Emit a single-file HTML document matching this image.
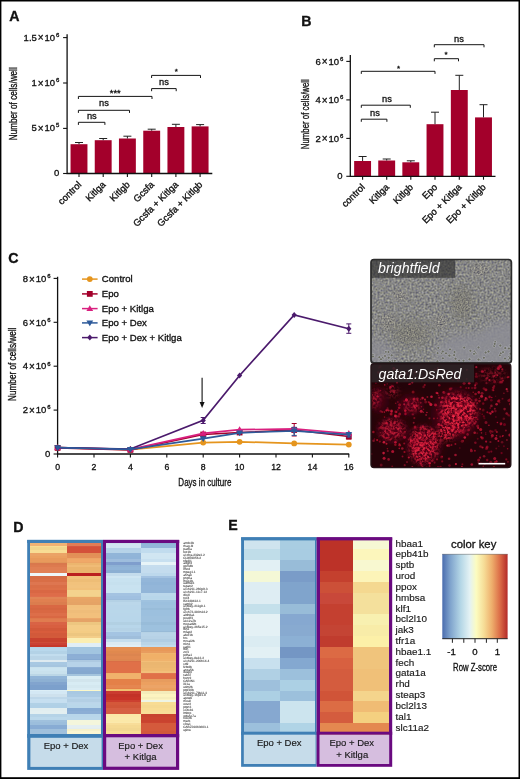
<!DOCTYPE html>
<html><head><meta charset="utf-8"><style>
html,body{margin:0;padding:0;background:#fff;overflow:hidden;}
body{width:520px;height:779px;position:relative;}
svg{position:absolute;left:0;top:0;display:block;will-change:transform;}
text{font-family:"Liberation Sans", sans-serif;fill:#111;stroke:#111;stroke-width:0.32px;}
.ns text{stroke:none;}
.lt text{stroke-width:0.15px;fill:#1a1a1a;}
.gl text{stroke:#777;stroke-width:0.08px;fill:#2a2a2a;}
text.w{fill:#fff;stroke:none;}
</style></head><body>
<svg width="520" height="779" viewBox="0 0 520 779">
<defs>
<linearGradient id="ck" x1="0" x2="1" y1="0" y2="0">
<stop offset="0" stop-color="#4a6cae"/>
<stop offset="0.12" stop-color="#7ea2cc"/>
<stop offset="0.28" stop-color="#b4d6e6"/>
<stop offset="0.42" stop-color="#e4f2f4"/>
<stop offset="0.52" stop-color="#fcfcc0"/>
<stop offset="0.64" stop-color="#f6dc96"/>
<stop offset="0.76" stop-color="#eeae6c"/>
<stop offset="0.88" stop-color="#dc6e48"/>
<stop offset="1" stop-color="#b42a28"/>
</linearGradient>
</defs>
<rect x="0" y="0" width="520" height="779" fill="#fff"/>

<rect x="0" y="0" width="520" height="1.5" fill="#000"/>
<rect x="0" y="0" width="1.4" height="779" fill="#000"/>
<rect x="518.5" y="0" width="1.5" height="779" fill="#000"/>
<rect x="0" y="777.2" width="520" height="1.8" fill="#000"/>
<text x="9.2" y="20.7" font-size="14.2" font-weight="bold" fill="#000">A</text>
<text x="301.2" y="25.9" font-size="14.2" font-weight="bold" fill="#000">B</text>
<text x="8.2" y="262.6" font-size="14.2" font-weight="bold" fill="#000">C</text>
<text x="13.2" y="531.8" font-size="14.2" font-weight="bold" fill="#000">D</text>
<text x="228.2" y="529.8" font-size="14.2" font-weight="bold" fill="#000">E</text>
<rect x="70.55" y="144.2" width="16.9" height="29.30" fill="#a3002b"/>
<path d="M79.0,144.2 V142.5 M75.0,142.5 H83.0" stroke="#222" stroke-width="1" fill="none"/>
<rect x="94.75" y="140.2" width="16.9" height="33.30" fill="#a3002b"/>
<path d="M103.2,140.2 V138.5 M99.2,138.5 H107.2" stroke="#222" stroke-width="1" fill="none"/>
<rect x="118.95" y="138.5" width="16.9" height="35.00" fill="#a3002b"/>
<path d="M127.4,138.5 V136.2 M123.4,136.2 H131.4" stroke="#222" stroke-width="1" fill="none"/>
<rect x="143.25" y="130.7" width="16.9" height="42.80" fill="#a3002b"/>
<path d="M151.7,130.7 V129.2 M147.7,129.2 H155.7" stroke="#222" stroke-width="1" fill="none"/>
<rect x="167.45" y="127.0" width="16.9" height="46.50" fill="#a3002b"/>
<path d="M175.9,127.0 V124.3 M171.9,124.3 H179.9" stroke="#222" stroke-width="1" fill="none"/>
<rect x="191.65" y="126.4" width="16.9" height="47.10" fill="#a3002b"/>
<path d="M200.1,126.4 V124.6 M196.1,124.6 H204.1" stroke="#222" stroke-width="1" fill="none"/>
<path d="M67.1,34.3 V173.5 H212.3" stroke="#111" stroke-width="1.3" fill="none"/>
<path d="M63.099999999999994,37.6 H67.1" stroke="#111" stroke-width="1.1"/>
<path d="M63.099999999999994,83.0 H67.1" stroke="#111" stroke-width="1.1"/>
<path d="M63.099999999999994,128.4 H67.1" stroke="#111" stroke-width="1.1"/>
<path d="M63.099999999999994,173.5 H67.1" stroke="#111" stroke-width="1.1"/>
<path d="M79.0,173.5 V176.9" stroke="#111" stroke-width="1.1"/>
<path d="M103.2,173.5 V176.9" stroke="#111" stroke-width="1.1"/>
<path d="M127.4,173.5 V176.9" stroke="#111" stroke-width="1.1"/>
<path d="M151.7,173.5 V176.9" stroke="#111" stroke-width="1.1"/>
<path d="M175.9,173.5 V176.9" stroke="#111" stroke-width="1.1"/>
<path d="M200.1,173.5 V176.9" stroke="#111" stroke-width="1.1"/>
<text x="59.4" y="40.5" font-size="9.5" text-anchor="end">1.5<tspan dx="0.9" dy="0.9" font-size="10">×</tspan><tspan dx="1.0" dy="-0.9">10</tspan><tspan dx="0.9" dy="-3.9" font-size="6.0">6</tspan></text>
<text x="59.4" y="85.9" font-size="9.5" text-anchor="end">1<tspan dx="0.9" dy="0.9" font-size="10">×</tspan><tspan dx="1.0" dy="-0.9">10</tspan><tspan dx="0.9" dy="-3.9" font-size="6.0">6</tspan></text>
<text x="59.4" y="131.3" font-size="9.5" text-anchor="end">5<tspan dx="0.9" dy="0.9" font-size="10">×</tspan><tspan dx="1.0" dy="-0.9">10</tspan><tspan dx="0.9" dy="-3.9" font-size="6.0">5</tspan></text>
<text x="59.4" y="176.4" font-size="9.5" text-anchor="end">0</text>
<text transform="translate(17.0,103.7) rotate(-90) scale(0.6915,1)" font-size="11.8" text-anchor="middle">Number of cells/well</text>
<path d="M78.4,124.89999999999999 V122.3 H104.9 V124.89999999999999" fill="none" stroke="#151515" stroke-width="1.0"/>
<path d="M78.4,112.89999999999999 V110.3 H129.5 V112.89999999999999" fill="none" stroke="#151515" stroke-width="1.0"/>
<path d="M78.4,99.0 V96.4 H152.0 V99.0" fill="none" stroke="#151515" stroke-width="1.0"/>
<path d="M151.6,91.19999999999999 V88.6 H176.2 V91.19999999999999" fill="none" stroke="#151515" stroke-width="1.0"/>
<path d="M151.6,78.0 V75.4 H200.5 V78.0" fill="none" stroke="#151515" stroke-width="1.0"/>
<g font-size="9.3" text-anchor="middle">
<text x="91.8" y="118.8">ns</text><text x="104" y="106.2">ns</text><text x="115.3" y="95.9" font-size="9.4">***</text><text x="164" y="84.6">ns</text><text x="176.3" y="73.6" font-size="8">*</text>
</g>
<text transform="translate(82.0,185.2) rotate(-45)" font-size="9.5" text-anchor="end">control</text>
<text transform="translate(106.2,185.2) rotate(-45)" font-size="9.5" text-anchor="end">Kitlga</text>
<text transform="translate(130.4,185.2) rotate(-45)" font-size="9.5" text-anchor="end">Kitlgb</text>
<text transform="translate(154.7,185.2) rotate(-45)" font-size="9.5" text-anchor="end">Gcsfa</text>
<text transform="translate(178.9,185.2) rotate(-45)" font-size="9.5" text-anchor="end">Gcsfa + Kitlga</text>
<text transform="translate(203.1,185.2) rotate(-45)" font-size="9.5" text-anchor="end">Gcsfa + Kitlgb</text>
<rect x="354.15" y="161.0" width="16.9" height="15.30" fill="#a3002b"/>
<path d="M362.6,161.0 V156.5 M358.6,156.5 H366.6" stroke="#222" stroke-width="1" fill="none"/>
<rect x="378.25" y="160.5" width="16.9" height="15.80" fill="#a3002b"/>
<path d="M386.7,160.5 V159.0 M382.7,159.0 H390.7" stroke="#222" stroke-width="1" fill="none"/>
<rect x="402.35" y="162.3" width="16.9" height="14.00" fill="#a3002b"/>
<path d="M410.8,162.3 V160.8 M406.8,160.8 H414.8" stroke="#222" stroke-width="1" fill="none"/>
<rect x="426.55" y="124.2" width="16.9" height="52.10" fill="#a3002b"/>
<path d="M435.0,124.2 V112.2 M431.0,112.2 H439.0" stroke="#222" stroke-width="1" fill="none"/>
<rect x="450.85" y="90.0" width="16.9" height="86.30" fill="#a3002b"/>
<path d="M459.3,90.0 V75.3 M455.3,75.3 H463.3" stroke="#222" stroke-width="1" fill="none"/>
<rect x="475.05" y="117.4" width="16.9" height="58.90" fill="#a3002b"/>
<path d="M483.5,117.4 V104.7 M479.5,104.7 H487.5" stroke="#222" stroke-width="1" fill="none"/>
<path d="M350.3,55.0 V176.3 H495.5" stroke="#111" stroke-width="1.3" fill="none"/>
<path d="M346.3,61.4 H350.3" stroke="#111" stroke-width="1.1"/>
<path d="M346.3,99.9 H350.3" stroke="#111" stroke-width="1.1"/>
<path d="M346.3,138.4 H350.3" stroke="#111" stroke-width="1.1"/>
<path d="M346.3,176.3 H350.3" stroke="#111" stroke-width="1.1"/>
<path d="M362.6,176.3 V179.70000000000002" stroke="#111" stroke-width="1.1"/>
<path d="M386.7,176.3 V179.70000000000002" stroke="#111" stroke-width="1.1"/>
<path d="M410.8,176.3 V179.70000000000002" stroke="#111" stroke-width="1.1"/>
<path d="M435.0,176.3 V179.70000000000002" stroke="#111" stroke-width="1.1"/>
<path d="M459.3,176.3 V179.70000000000002" stroke="#111" stroke-width="1.1"/>
<path d="M483.5,176.3 V179.70000000000002" stroke="#111" stroke-width="1.1"/>
<text x="343.3" y="64.5" font-size="9.5" text-anchor="end">6<tspan dx="0.9" dy="0.9" font-size="10">×</tspan><tspan dx="1.0" dy="-0.9">10</tspan><tspan dx="0.9" dy="-3.9" font-size="6.0">6</tspan></text>
<text x="343.3" y="103.0" font-size="9.5" text-anchor="end">4<tspan dx="0.9" dy="0.9" font-size="10">×</tspan><tspan dx="1.0" dy="-0.9">10</tspan><tspan dx="0.9" dy="-3.9" font-size="6.0">6</tspan></text>
<text x="343.3" y="141.5" font-size="9.5" text-anchor="end">2<tspan dx="0.9" dy="0.9" font-size="10">×</tspan><tspan dx="1.0" dy="-0.9">10</tspan><tspan dx="0.9" dy="-3.9" font-size="6.0">6</tspan></text>
<text x="342.6" y="179.2" font-size="9.5" text-anchor="end">0</text>
<text transform="translate(308.6,114.2) rotate(-90) scale(0.6803,1)" font-size="11.5" text-anchor="middle">Number of cells/well</text>
<path d="M361.3,121.8 V119.2 H386.9 V121.8" fill="none" stroke="#151515" stroke-width="1.0"/>
<path d="M361.3,107.8 V105.2 H410.3 V107.8" fill="none" stroke="#151515" stroke-width="1.0"/>
<path d="M361.3,73.89999999999999 V71.3 H435.0 V73.89999999999999" fill="none" stroke="#151515" stroke-width="1.0"/>
<path d="M434.3,61.300000000000004 V58.7 H458.5 V61.300000000000004" fill="none" stroke="#151515" stroke-width="1.0"/>
<path d="M434.3,47.300000000000004 V44.7 H484.0 V47.300000000000004" fill="none" stroke="#151515" stroke-width="1.0"/>
<g font-size="9.3" text-anchor="middle">
<text x="375" y="116.2">ns</text><text x="387" y="101.8">ns</text><text x="398.5" y="70.6" font-size="8">*</text><text x="446" y="57.3" font-size="8">*</text><text x="459" y="41.8">ns</text>
</g>
<text transform="translate(365.6,187.7) rotate(-45)" font-size="9.5" text-anchor="end">control</text>
<text transform="translate(389.7,187.7) rotate(-45)" font-size="9.5" text-anchor="end">Kitlga</text>
<text transform="translate(413.8,187.7) rotate(-45)" font-size="9.5" text-anchor="end">Kitlgb</text>
<text transform="translate(438.0,187.7) rotate(-45)" font-size="9.5" text-anchor="end">Epo</text>
<text transform="translate(462.3,187.7) rotate(-45)" font-size="9.5" text-anchor="end">Epo + Kitlga</text>
<text transform="translate(486.5,187.7) rotate(-45)" font-size="9.5" text-anchor="end">Epo + Kitlgb</text>
<path d="M57.6,276.8 V454 H349.2" stroke="#111" stroke-width="1.3" fill="none"/>
<path d="M53.6,454.0 H57.6" stroke="#111" stroke-width="1.1"/>
<path d="M53.6,410.1 H57.6" stroke="#111" stroke-width="1.1"/>
<path d="M53.6,366.2 H57.6" stroke="#111" stroke-width="1.1"/>
<path d="M53.6,322.3 H57.6" stroke="#111" stroke-width="1.1"/>
<path d="M53.6,278.4 H57.6" stroke="#111" stroke-width="1.1"/>
<text x="50.2" y="456.9" font-size="9.5" text-anchor="end">0</text>
<text x="50.6" y="413.3" font-size="9.5" text-anchor="end">2<tspan dx="0.9" dy="0.9" font-size="10">×</tspan><tspan dx="1.0" dy="-0.9">10</tspan><tspan dx="0.9" dy="-3.9" font-size="6.0">6</tspan></text>
<text x="50.6" y="369.4" font-size="9.5" text-anchor="end">4<tspan dx="0.9" dy="0.9" font-size="10">×</tspan><tspan dx="1.0" dy="-0.9">10</tspan><tspan dx="0.9" dy="-3.9" font-size="6.0">6</tspan></text>
<text x="50.6" y="325.5" font-size="9.5" text-anchor="end">6<tspan dx="0.9" dy="0.9" font-size="10">×</tspan><tspan dx="1.0" dy="-0.9">10</tspan><tspan dx="0.9" dy="-3.9" font-size="6.0">6</tspan></text>
<text x="50.6" y="281.59999999999997" font-size="9.5" text-anchor="end">8<tspan dx="0.9" dy="0.9" font-size="10">×</tspan><tspan dx="1.0" dy="-0.9">10</tspan><tspan dx="0.9" dy="-3.9" font-size="6.0">6</tspan></text>
<path d="M57.6,454 V457.4" stroke="#111" stroke-width="1.1"/>
<text x="57.6" y="469.8" font-size="8.7" text-anchor="middle">0</text>
<path d="M94.0,454 V457.4" stroke="#111" stroke-width="1.1"/>
<text x="94.0" y="469.8" font-size="8.7" text-anchor="middle">2</text>
<path d="M130.4,454 V457.4" stroke="#111" stroke-width="1.1"/>
<text x="130.4" y="469.8" font-size="8.7" text-anchor="middle">4</text>
<path d="M166.8,454 V457.4" stroke="#111" stroke-width="1.1"/>
<text x="166.8" y="469.8" font-size="8.7" text-anchor="middle">6</text>
<path d="M203.2,454 V457.4" stroke="#111" stroke-width="1.1"/>
<text x="203.2" y="469.8" font-size="8.7" text-anchor="middle">8</text>
<path d="M239.6,454 V457.4" stroke="#111" stroke-width="1.1"/>
<text x="239.6" y="469.8" font-size="8.7" text-anchor="middle">10</text>
<path d="M276.0,454 V457.4" stroke="#111" stroke-width="1.1"/>
<text x="276.0" y="469.8" font-size="8.7" text-anchor="middle">12</text>
<path d="M312.4,454 V457.4" stroke="#111" stroke-width="1.1"/>
<text x="312.4" y="469.8" font-size="8.7" text-anchor="middle">14</text>
<path d="M348.8,454 V457.4" stroke="#111" stroke-width="1.1"/>
<text x="348.8" y="469.8" font-size="8.7" text-anchor="middle">16</text>
<text transform="translate(204.9,486.2) scale(0.6995,1)" font-size="11.5" text-anchor="middle">Days in culture</text>
<text transform="translate(16.4,364.3) rotate(-90) scale(0.6962,1)" font-size="11.8" text-anchor="middle">Number of cells/well</text>
<polyline points="57.6,447.7 130.4,449.6 203.2,442.6 239.6,441.8 294.2,443.4 348.8,444.6" fill="none" stroke="#e5951e" stroke-width="1.7"/>
<circle cx="57.6" cy="447.7" r="2.9" fill="#e5951e"/>
<circle cx="130.4" cy="449.6" r="2.9" fill="#e5951e"/>
<circle cx="203.2" cy="442.6" r="2.9" fill="#e5951e"/>
<circle cx="239.6" cy="441.8" r="2.9" fill="#e5951e"/>
<circle cx="294.2" cy="443.4" r="2.9" fill="#e5951e"/>
<circle cx="348.8" cy="444.6" r="2.9" fill="#e5951e"/>
<polyline points="57.6,447.9 130.4,449.9 203.2,434.5 239.6,432.5 294.2,430.0 348.8,436.5" fill="none" stroke="#a3002b" stroke-width="1.7"/>
<path d="M294.2,423.5 V436 M291.7,423.5 H296.7 M291.7,436 H296.7" stroke="#a3002b" stroke-width="1"/>
<path d="M348.8,434 V439 M346.3,434 H351.3 M346.3,439 H351.3" stroke="#a3002b" stroke-width="1"/>
<rect x="54.7" y="445.0" width="5.8" height="5.8" fill="#a3002b"/>
<rect x="127.5" y="447.0" width="5.8" height="5.8" fill="#a3002b"/>
<rect x="200.3" y="431.6" width="5.8" height="5.8" fill="#a3002b"/>
<rect x="236.7" y="429.6" width="5.8" height="5.8" fill="#a3002b"/>
<rect x="291.3" y="427.1" width="5.8" height="5.8" fill="#a3002b"/>
<rect x="345.9" y="433.6" width="5.8" height="5.8" fill="#a3002b"/>
<polyline points="57.6,447.7 130.4,449.3 203.2,433.3 239.6,429.7 294.2,428.9 348.8,433.5" fill="none" stroke="#d9207f" stroke-width="1.7"/>
<path d="M57.6,444.3 L61.0,450.1 L54.2,450.1Z" fill="#d9207f"/>
<path d="M130.4,445.9 L133.8,451.7 L127.0,451.7Z" fill="#d9207f"/>
<path d="M203.2,429.9 L206.6,435.7 L199.8,435.7Z" fill="#d9207f"/>
<path d="M239.6,426.3 L243.0,432.1 L236.2,432.1Z" fill="#d9207f"/>
<path d="M294.2,425.5 L297.6,431.3 L290.8,431.3Z" fill="#d9207f"/>
<path d="M348.8,430.1 L352.2,435.9 L345.4,435.9Z" fill="#d9207f"/>
<polyline points="57.6,447.7 130.4,449.0 203.2,420.4 239.6,375.5 294.2,315.0 348.8,328.8" fill="none" stroke="#4b1a6c" stroke-width="1.7"/>
<path d="M203.2,417.5 V423.5 M200.7,417.5 H205.7 M200.7,423.5 H205.7" stroke="#4b1a6c" stroke-width="1"/>
<path d="M348.8,323.9 V333.3 M346.3,323.9 H351.3 M346.3,333.3 H351.3" stroke="#4b1a6c" stroke-width="1"/>
<path d="M57.6,444.7 L60.2,447.7 L57.6,450.7 L55.0,447.7Z" fill="#4b1a6c"/>
<path d="M130.4,446.0 L133.0,449.0 L130.4,452.0 L127.8,449.0Z" fill="#4b1a6c"/>
<path d="M203.2,417.4 L205.8,420.4 L203.2,423.4 L200.6,420.4Z" fill="#4b1a6c"/>
<path d="M239.6,372.5 L242.2,375.5 L239.6,378.5 L237.0,375.5Z" fill="#4b1a6c"/>
<path d="M294.2,312.0 L296.8,315.0 L294.2,318.0 L291.6,315.0Z" fill="#4b1a6c"/>
<path d="M348.8,325.8 L351.4,328.8 L348.8,331.8 L346.2,328.8Z" fill="#4b1a6c"/>
<polyline points="57.6,447.7 130.4,449.4 203.2,438.6 239.6,432.8 294.2,430.8 348.8,434.6" fill="none" stroke="#2d5a9a" stroke-width="1.7"/>
<path d="M294.2,427.3 V435.4 M291.7,427.3 H296.7 M291.7,435.4 H296.7" stroke="#2d5a9a" stroke-width="1"/>
<path d="M348.8,432.5 V437 M346.3,432.5 H351.3 M346.3,437 H351.3" stroke="#2d5a9a" stroke-width="1"/>
<path d="M57.6,451.1 L61.0,445.3 L54.2,445.3Z" fill="#2d5a9a"/>
<path d="M130.4,452.8 L133.8,447.0 L127.0,447.0Z" fill="#2d5a9a"/>
<path d="M203.2,442.0 L206.6,436.2 L199.8,436.2Z" fill="#2d5a9a"/>
<path d="M239.6,436.2 L243.0,430.4 L236.2,430.4Z" fill="#2d5a9a"/>
<path d="M294.2,434.2 L297.6,428.4 L290.8,428.4Z" fill="#2d5a9a"/>
<path d="M348.8,438.0 L352.2,432.2 L345.4,432.2Z" fill="#2d5a9a"/>
<path d="M202.1,377.8 V404" stroke="#111" stroke-width="1.1"/><path d="M199.6,402 L202.1,408 L204.6,402Z" fill="#111"/>
<path d="M82,279.1 H97.6" stroke="#e5951e" stroke-width="1.5"/>
<circle cx="89.8" cy="279.1" r="2.9" fill="#e5951e"/>
<text x="101.8" y="282.4" font-size="9.6">Control</text>
<path d="M82,293.9 H97.6" stroke="#a3002b" stroke-width="1.5"/>
<rect x="86.9" y="291.0" width="5.8" height="5.8" fill="#a3002b"/>
<text x="101.8" y="297.2" font-size="9.6">Epo</text>
<path d="M82,308.6 H97.6" stroke="#d9207f" stroke-width="1.5"/>
<path d="M89.8,305.2 L93.2,311.0 L86.4,311.0Z" fill="#d9207f"/>
<text x="101.8" y="311.9" font-size="9.6">Epo + Kitlga</text>
<path d="M82,322.9 H97.6" stroke="#2d5a9a" stroke-width="1.5"/>
<path d="M89.8,326.3 L93.2,320.5 L86.4,320.5Z" fill="#2d5a9a"/>
<text x="101.8" y="326.2" font-size="9.6">Epo + Dex</text>
<path d="M82,337.6 H97.6" stroke="#4b1a6c" stroke-width="1.5"/>
<path d="M89.8,334.6 L92.4,337.6 L89.8,340.6 L87.2,337.6Z" fill="#4b1a6c"/>
<text x="101.8" y="340.9" font-size="9.6">Epo + Dex + Kitlga</text>
<defs>
<filter id="grain" x="0" y="0" width="100%" height="100%">
<feTurbulence type="fractalNoise" baseFrequency="0.55" numOctaves="2" seed="3" result="n"/>
<feColorMatrix in="n" type="matrix" values="0 0 0 0 0.54  0 0 0 0 0.54  0 0 0 0 0.53  1.6 1.6 1.6 0 -2.2" result="g"/>
<feComposite in="g" in2="SourceGraphic" operator="in"/>
</filter>
<filter id="blur3"><feGaussianBlur stdDeviation="3"/></filter>
<filter id="blur1" x="-5%" y="-5%" width="110%" height="110%"><feGaussianBlur stdDeviation="0.55"/></filter>
<clipPath id="bfclip"><rect x="371" y="259.5" width="140.4" height="103.6" rx="3"/></clipPath>
<clipPath id="dsclip"><rect x="371" y="363.8" width="139.8" height="103.8" rx="3"/></clipPath>
</defs>
<defs>
<filter id="bfn" x="0" y="0" width="100%" height="100%" color-interpolation-filters="sRGB">
<feTurbulence type="fractalNoise" baseFrequency="0.5" numOctaves="1" seed="4" result="n"/>
<feColorMatrix in="n" type="matrix" values="0.5 0 0 0 0.28  0.5 0 0 0 0.28  0.35 0.15 0 0 0.275  0 0 0 0 1"/>
</filter>
<filter id="bfn2" x="0" y="0" width="100%" height="100%" color-interpolation-filters="sRGB">
<feTurbulence type="fractalNoise" baseFrequency="0.7" numOctaves="1" seed="9" result="n"/>
<feColorMatrix in="n" type="matrix" values="1.1 0 0 0 -0.02  1.08 0 0 0 -0.02  0.8 0 0 0 0.1  0 0 0 0 0.75"/>
</filter>
<radialGradient id="cm"><stop offset="0" stop-color="#fff" stop-opacity="0.9"/><stop offset="0.5" stop-color="#fff" stop-opacity="0.6"/><stop offset="1" stop-color="#fff" stop-opacity="0"/></radialGradient>
<mask id="bfmask" maskUnits="userSpaceOnUse" x="360" y="250" width="160" height="120">
<rect x="360" y="250" width="160" height="120" fill="#000"/>
<ellipse cx="462" cy="303" rx="14" ry="20" fill="url(#cm)"/>
<ellipse cx="412" cy="334" rx="24" ry="16" fill="url(#cm)"/>
<ellipse cx="388" cy="322" rx="12" ry="12" fill="url(#cm)"/>
<ellipse cx="440" cy="322" rx="10" ry="10" fill="url(#cm)"/>
<ellipse cx="480" cy="270" rx="12" ry="9" fill="url(#cm)"/>
<ellipse cx="400" cy="296" rx="10" ry="7" fill="url(#cm)"/>
</mask>
</defs>
<defs><mask id="bfbusy" maskUnits="userSpaceOnUse" x="360" y="250" width="160" height="120">
<rect x="360" y="250" width="160" height="120" fill="#fff"/>
<g filter="url(#bl4)" fill="#000">
<path d="M436,348 Q452,330 476,334 Q496,318 516,320 V372 H436Z" fill-opacity="0.85"/>
<path d="M364,340 Q380,336 392,346 L396,372 H364Z" fill-opacity="0.7"/>
</g></mask></defs>
<g clip-path="url(#bfclip)">
<rect x="371" y="259.5" width="141" height="104" fill="#8d8d95"/>
<rect x="371" y="259.5" width="141" height="104" filter="url(#bfn)" mask="url(#bfbusy)"/>
<g filter="url(#blur1)"><circle cx="470.4" cy="350.8" r="1.5" fill="#6a6c5e" stroke="#a6a6ae" stroke-width="0.8"/><circle cx="506.2" cy="348.0" r="1.5" fill="#6a6c5e" stroke="#a6a6ae" stroke-width="0.8"/><circle cx="474.6" cy="351.6" r="1.5" fill="#6a6c5e" stroke="#a6a6ae" stroke-width="0.8"/><circle cx="450.0" cy="349.4" r="1.5" fill="#6a6c5e" stroke="#a6a6ae" stroke-width="0.8"/><circle cx="483.9" cy="357.8" r="1.5" fill="#6a6c5e" stroke="#a6a6ae" stroke-width="0.8"/><circle cx="442.9" cy="358.3" r="1.5" fill="#6a6c5e" stroke="#a6a6ae" stroke-width="0.8"/><circle cx="510.6" cy="362.9" r="1.5" fill="#6a6c5e" stroke="#a6a6ae" stroke-width="0.8"/><circle cx="485.7" cy="352.5" r="1.5" fill="#6a6c5e" stroke="#a6a6ae" stroke-width="0.8"/><circle cx="438.3" cy="347.9" r="1.5" fill="#6a6c5e" stroke="#a6a6ae" stroke-width="0.8"/><circle cx="469.5" cy="359.3" r="1.5" fill="#6a6c5e" stroke="#a6a6ae" stroke-width="0.8"/><circle cx="475.5" cy="353.2" r="1.5" fill="#6a6c5e" stroke="#a6a6ae" stroke-width="0.8"/><circle cx="474.0" cy="353.9" r="1.5" fill="#6a6c5e" stroke="#a6a6ae" stroke-width="0.8"/><circle cx="511.8" cy="363.9" r="1.5" fill="#6a6c5e" stroke="#a6a6ae" stroke-width="0.8"/><circle cx="499.9" cy="355.2" r="1.5" fill="#6a6c5e" stroke="#a6a6ae" stroke-width="0.8"/><circle cx="494.2" cy="346.0" r="1.5" fill="#6a6c5e" stroke="#a6a6ae" stroke-width="0.8"/><circle cx="500.3" cy="345.6" r="1.5" fill="#6a6c5e" stroke="#a6a6ae" stroke-width="0.8"/><circle cx="508.8" cy="359.4" r="1.5" fill="#6a6c5e" stroke="#a6a6ae" stroke-width="0.8"/><circle cx="505.2" cy="348.1" r="1.5" fill="#6a6c5e" stroke="#a6a6ae" stroke-width="0.8"/><circle cx="510.5" cy="345.9" r="1.5" fill="#6a6c5e" stroke="#a6a6ae" stroke-width="0.8"/><circle cx="441.6" cy="352.9" r="1.5" fill="#6a6c5e" stroke="#a6a6ae" stroke-width="0.8"/><circle cx="495.2" cy="342.1" r="1.5" fill="#6a6c5e" stroke="#a6a6ae" stroke-width="0.8"/><circle cx="509.3" cy="356.7" r="1.5" fill="#6a6c5e" stroke="#a6a6ae" stroke-width="0.8"/><circle cx="478.5" cy="347.4" r="1.5" fill="#6a6c5e" stroke="#a6a6ae" stroke-width="0.8"/><circle cx="450.5" cy="356.0" r="1.5" fill="#6a6c5e" stroke="#a6a6ae" stroke-width="0.8"/><circle cx="446.0" cy="353.3" r="1.5" fill="#6a6c5e" stroke="#a6a6ae" stroke-width="0.8"/><circle cx="509.8" cy="358.1" r="1.5" fill="#6a6c5e" stroke="#a6a6ae" stroke-width="0.8"/><circle cx="459.1" cy="360.5" r="1.5" fill="#6a6c5e" stroke="#a6a6ae" stroke-width="0.8"/><circle cx="500.9" cy="353.3" r="1.5" fill="#6a6c5e" stroke="#a6a6ae" stroke-width="0.8"/><circle cx="443.6" cy="363.7" r="1.5" fill="#6a6c5e" stroke="#a6a6ae" stroke-width="0.8"/><circle cx="494.7" cy="343.9" r="1.5" fill="#6a6c5e" stroke="#a6a6ae" stroke-width="0.8"/><circle cx="442.8" cy="351.5" r="1.5" fill="#6a6c5e" stroke="#a6a6ae" stroke-width="0.8"/><circle cx="454.5" cy="352.0" r="1.5" fill="#6a6c5e" stroke="#a6a6ae" stroke-width="0.8"/><circle cx="464.2" cy="347.6" r="1.5" fill="#6a6c5e" stroke="#a6a6ae" stroke-width="0.8"/><circle cx="508.9" cy="348.5" r="1.5" fill="#6a6c5e" stroke="#a6a6ae" stroke-width="0.8"/><circle cx="479.7" cy="360.0" r="1.5" fill="#6a6c5e" stroke="#a6a6ae" stroke-width="0.8"/><circle cx="505.0" cy="358.5" r="1.5" fill="#6a6c5e" stroke="#a6a6ae" stroke-width="0.8"/><circle cx="492.2" cy="362.2" r="1.5" fill="#6a6c5e" stroke="#a6a6ae" stroke-width="0.8"/><circle cx="450.9" cy="362.5" r="1.5" fill="#6a6c5e" stroke="#a6a6ae" stroke-width="0.8"/><circle cx="503.0" cy="352.1" r="1.5" fill="#6a6c5e" stroke="#a6a6ae" stroke-width="0.8"/><circle cx="438.9" cy="362.9" r="1.5" fill="#6a6c5e" stroke="#a6a6ae" stroke-width="0.8"/><circle cx="454.1" cy="355.1" r="1.5" fill="#6a6c5e" stroke="#a6a6ae" stroke-width="0.8"/><circle cx="455.5" cy="358.7" r="1.5" fill="#6a6c5e" stroke="#a6a6ae" stroke-width="0.8"/><circle cx="449.3" cy="355.6" r="1.5" fill="#6a6c5e" stroke="#a6a6ae" stroke-width="0.8"/><circle cx="478.5" cy="359.6" r="1.5" fill="#6a6c5e" stroke="#a6a6ae" stroke-width="0.8"/><circle cx="463.5" cy="360.7" r="1.5" fill="#6a6c5e" stroke="#a6a6ae" stroke-width="0.8"/><circle cx="510.5" cy="353.7" r="1.5" fill="#6a6c5e" stroke="#a6a6ae" stroke-width="0.8"/><circle cx="488.5" cy="351.5" r="1.5" fill="#6a6c5e" stroke="#a6a6ae" stroke-width="0.8"/><circle cx="437.4" cy="361.3" r="1.5" fill="#6a6c5e" stroke="#a6a6ae" stroke-width="0.8"/><circle cx="489.3" cy="362.9" r="1.5" fill="#6a6c5e" stroke="#a6a6ae" stroke-width="0.8"/><circle cx="437.6" cy="353.1" r="1.5" fill="#6a6c5e" stroke="#a6a6ae" stroke-width="0.8"/><circle cx="382.6" cy="358.1" r="1.5" fill="#6a6c5e" stroke="#a6a6ae" stroke-width="0.8"/><circle cx="378.7" cy="363.0" r="1.5" fill="#6a6c5e" stroke="#a6a6ae" stroke-width="0.8"/><circle cx="372.8" cy="354.8" r="1.5" fill="#6a6c5e" stroke="#a6a6ae" stroke-width="0.8"/><circle cx="388.7" cy="361.2" r="1.5" fill="#6a6c5e" stroke="#a6a6ae" stroke-width="0.8"/><circle cx="388.7" cy="357.7" r="1.5" fill="#6a6c5e" stroke="#a6a6ae" stroke-width="0.8"/><circle cx="390.0" cy="361.5" r="1.5" fill="#6a6c5e" stroke="#a6a6ae" stroke-width="0.8"/><circle cx="379.4" cy="357.3" r="1.5" fill="#6a6c5e" stroke="#a6a6ae" stroke-width="0.8"/><circle cx="392.6" cy="360.7" r="1.5" fill="#6a6c5e" stroke="#a6a6ae" stroke-width="0.8"/><circle cx="381.0" cy="359.2" r="1.5" fill="#6a6c5e" stroke="#a6a6ae" stroke-width="0.8"/><circle cx="391.7" cy="355.3" r="1.5" fill="#6a6c5e" stroke="#a6a6ae" stroke-width="0.8"/><circle cx="386.0" cy="351.9" r="1.5" fill="#6a6c5e" stroke="#a6a6ae" stroke-width="0.8"/><circle cx="385.0" cy="356.0" r="1.5" fill="#6a6c5e" stroke="#a6a6ae" stroke-width="0.8"/><circle cx="372.9" cy="356.5" r="1.5" fill="#6a6c5e" stroke="#a6a6ae" stroke-width="0.8"/><circle cx="394.8" cy="360.8" r="1.5" fill="#6a6c5e" stroke="#a6a6ae" stroke-width="0.8"/><circle cx="388.5" cy="352.0" r="1.5" fill="#6a6c5e" stroke="#a6a6ae" stroke-width="0.8"/></g>
<rect x="371" y="259.5" width="141" height="103" filter="url(#bfn2)" mask="url(#bfmask)"/>
<g filter="url(#bl4)">
<ellipse cx="462" cy="303" rx="12" ry="18" fill="#5a5a50" fill-opacity="0.18"/>
<ellipse cx="410" cy="333" rx="20" ry="13" fill="#5a5a50" fill-opacity="0.18"/>
</g>
<rect x="371" y="259.5" width="84.2" height="18.3" fill="#2a2a2a" fill-opacity="0.62"/>
<text x="378" y="272.9" font-size="14.2" font-style="italic" fill="#fff" class="w">brightfield</text>
</g>
<rect x="371" y="259.5" width="140.4" height="103.4" rx="3" fill="none" stroke="#2c2c2c" stroke-width="1.7"/>
<g clip-path="url(#dsclip)">
<rect x="371" y="363.8" width="140" height="104" fill="#240309"/>
<defs><filter id="bl2" x="-50%" y="-50%" width="200%" height="200%"><feGaussianBlur stdDeviation="2.5"/></filter>
<filter id="bl4" x="-50%" y="-50%" width="200%" height="200%"><feGaussianBlur stdDeviation="5"/></filter>
<filter id="dsn" x="0" y="0" width="100%" height="100%" color-interpolation-filters="sRGB">
<feTurbulence type="fractalNoise" baseFrequency="0.5" numOctaves="2" seed="21" result="n"/>
<feColorMatrix in="n" type="matrix" values="0 0 0 0 0.82  0 0 0 0 0.08  0 0 0 0 0.2  7 0 0 0 -4.1"/>
</filter>
<filter id="dsb" x="0" y="0" width="100%" height="100%" color-interpolation-filters="sRGB">
<feTurbulence type="fractalNoise" baseFrequency="0.4" numOctaves="2" seed="5" result="n"/>
<feColorMatrix in="n" type="matrix" values="0.6 0 0 0 0.46  0.2 0 0 0 0.0  0.25 0 0 0 0.08  3.6 0 0 0 -1.25"/>
</filter>
<mask id="dsm" maskUnits="userSpaceOnUse" x="360" y="355" width="160" height="120">
<rect x="360" y="355" width="160" height="120" fill="#000"/>
<g filter="url(#bl2)" fill="#fff">
<path d="M444,402 Q448,392 460,394 Q474,396 476,408 Q478,420 468,428 Q458,432 452,438 Q446,444 440,438 Q436,430 442,420 Q438,410 444,402Z"/>
<path d="M414,430 Q424,424 434,430 Q442,438 438,450 Q434,462 422,464 Q410,462 410,450 Q408,438 414,430Z" fill-opacity="0.9"/>
<path d="M380,424 Q390,416 402,422 Q408,430 400,438 Q388,442 380,436Z" fill-opacity="0.7"/>
<ellipse cx="412" cy="406" rx="8" ry="6" fill-opacity="0.6"/>
<ellipse cx="375" cy="398" rx="5" ry="10" fill-opacity="0.6"/>
<ellipse cx="392" cy="392" rx="7" ry="5" fill-opacity="0.5"/>
<ellipse cx="492" cy="375" rx="14" ry="7" fill-opacity="0.35"/>
</g></mask></defs>
<g filter="url(#bl4)" fill="#5a0618" fill-opacity="0.8">
<ellipse cx="456" cy="414" rx="22" ry="24"/>
<ellipse cx="424" cy="445" rx="16" ry="18"/>
<ellipse cx="392" cy="430" rx="14" ry="11"/>
<ellipse cx="410" cy="405" rx="12" ry="9"/>
<ellipse cx="378" cy="400" rx="8" ry="12"/>
</g>
<g filter="url(#blur1)"><circle cx="466.7" cy="378.9" r="1.0" fill="#d0163a" fill-opacity="0.42"/><circle cx="474.7" cy="432.8" r="1.3" fill="#e01e42" fill-opacity="0.61"/><circle cx="399.7" cy="425.7" r="1.1" fill="#c81438" fill-opacity="0.45"/><circle cx="492.6" cy="431.7" r="1.1" fill="#c81438" fill-opacity="0.45"/><circle cx="460.7" cy="387.2" r="1.1" fill="#a80c28" fill-opacity="0.52"/><circle cx="481.6" cy="396.2" r="1.5" fill="#e01e42" fill-opacity="0.77"/><circle cx="412.3" cy="382.5" r="1.1" fill="#e01e42" fill-opacity="0.70"/><circle cx="461.9" cy="466.7" r="1.0" fill="#c81438" fill-opacity="0.75"/><circle cx="433.3" cy="445.9" r="1.1" fill="#c0102e" fill-opacity="0.40"/><circle cx="508.6" cy="376.9" r="1.0" fill="#a80c28" fill-opacity="0.71"/><circle cx="490.6" cy="413.6" r="1.1" fill="#e01e42" fill-opacity="0.78"/><circle cx="508.4" cy="415.1" r="1.3" fill="#c0102e" fill-opacity="0.42"/><circle cx="508.9" cy="400.5" r="1.5" fill="#c81438" fill-opacity="0.49"/><circle cx="395.7" cy="369.2" r="0.8" fill="#e01e42" fill-opacity="0.81"/><circle cx="492.3" cy="435.6" r="1.5" fill="#e01e42" fill-opacity="0.61"/><circle cx="491.4" cy="405.9" r="1.3" fill="#e01e42" fill-opacity="0.50"/><circle cx="485.7" cy="398.2" r="1.1" fill="#e01e42" fill-opacity="0.72"/><circle cx="503.0" cy="435.7" r="0.8" fill="#d0163a" fill-opacity="0.78"/><circle cx="387.6" cy="408.4" r="1.1" fill="#c81438" fill-opacity="0.45"/><circle cx="495.6" cy="396.2" r="0.8" fill="#a80c28" fill-opacity="0.37"/><circle cx="399.3" cy="448.4" r="0.8" fill="#c81438" fill-opacity="0.76"/><circle cx="424.8" cy="385.0" r="1.1" fill="#a80c28" fill-opacity="0.70"/><circle cx="422.6" cy="444.0" r="1.5" fill="#d0163a" fill-opacity="0.70"/><circle cx="495.4" cy="411.1" r="1.3" fill="#d0163a" fill-opacity="0.37"/><circle cx="438.5" cy="395.2" r="0.8" fill="#c0102e" fill-opacity="0.49"/><circle cx="506.7" cy="389.2" r="1.1" fill="#e01e42" fill-opacity="0.77"/><circle cx="464.8" cy="437.5" r="1.3" fill="#e01e42" fill-opacity="0.82"/><circle cx="465.3" cy="418.1" r="1.3" fill="#a80c28" fill-opacity="0.55"/><circle cx="404.5" cy="452.0" r="1.1" fill="#a80c28" fill-opacity="0.84"/><circle cx="482.5" cy="371.0" r="1.3" fill="#c81438" fill-opacity="0.42"/><circle cx="377.7" cy="396.8" r="1.0" fill="#c81438" fill-opacity="0.62"/><circle cx="432.7" cy="379.2" r="1.3" fill="#c81438" fill-opacity="0.49"/><circle cx="477.2" cy="433.3" r="1.0" fill="#a80c28" fill-opacity="0.43"/><circle cx="383.6" cy="453.1" r="1.3" fill="#e01e42" fill-opacity="0.80"/><circle cx="416.1" cy="404.7" r="1.3" fill="#c0102e" fill-opacity="0.37"/><circle cx="473.3" cy="411.0" r="1.1" fill="#e01e42" fill-opacity="0.56"/><circle cx="448.9" cy="445.4" r="1.5" fill="#d0163a" fill-opacity="0.50"/><circle cx="436.6" cy="392.9" r="1.1" fill="#c81438" fill-opacity="0.77"/><circle cx="484.8" cy="464.0" r="1.1" fill="#c0102e" fill-opacity="0.48"/><circle cx="480.1" cy="409.1" r="1.1" fill="#c0102e" fill-opacity="0.75"/><circle cx="446.9" cy="414.7" r="1.3" fill="#c81438" fill-opacity="0.43"/><circle cx="468.7" cy="388.1" r="1.0" fill="#e01e42" fill-opacity="0.48"/><circle cx="447.3" cy="445.6" r="1.1" fill="#e01e42" fill-opacity="0.78"/><circle cx="507.5" cy="391.3" r="1.0" fill="#e01e42" fill-opacity="0.42"/><circle cx="506.7" cy="413.5" r="1.3" fill="#d0163a" fill-opacity="0.58"/><circle cx="396.3" cy="412.0" r="1.1" fill="#e01e42" fill-opacity="0.75"/><circle cx="439.3" cy="385.2" r="1.3" fill="#c0102e" fill-opacity="0.54"/><circle cx="477.7" cy="438.8" r="1.0" fill="#a80c28" fill-opacity="0.45"/><circle cx="384.4" cy="412.1" r="0.8" fill="#d0163a" fill-opacity="0.73"/><circle cx="380.1" cy="366.5" r="1.5" fill="#a80c28" fill-opacity="0.44"/><circle cx="393.7" cy="368.4" r="1.3" fill="#d0163a" fill-opacity="0.84"/><circle cx="491.7" cy="437.2" r="1.0" fill="#a80c28" fill-opacity="0.47"/><circle cx="494.5" cy="381.7" r="1.5" fill="#c0102e" fill-opacity="0.47"/><circle cx="410.3" cy="384.0" r="1.0" fill="#c81438" fill-opacity="0.49"/><circle cx="421.0" cy="463.2" r="1.1" fill="#c81438" fill-opacity="0.71"/><circle cx="423.5" cy="409.2" r="0.8" fill="#c0102e" fill-opacity="0.58"/><circle cx="507.9" cy="461.8" r="1.1" fill="#c81438" fill-opacity="0.39"/><circle cx="405.3" cy="410.5" r="1.3" fill="#d0163a" fill-opacity="0.83"/><circle cx="388.9" cy="432.3" r="1.1" fill="#a80c28" fill-opacity="0.37"/><circle cx="502.5" cy="436.2" r="0.8" fill="#c0102e" fill-opacity="0.80"/><circle cx="426.9" cy="412.5" r="0.8" fill="#c81438" fill-opacity="0.83"/><circle cx="501.6" cy="382.1" r="1.5" fill="#d0163a" fill-opacity="0.49"/><circle cx="409.0" cy="377.6" r="0.8" fill="#e01e42" fill-opacity="0.38"/><circle cx="401.4" cy="375.1" r="1.3" fill="#e01e42" fill-opacity="0.61"/><circle cx="378.9" cy="368.0" r="0.8" fill="#a80c28" fill-opacity="0.57"/><circle cx="416.6" cy="449.2" r="0.8" fill="#e01e42" fill-opacity="0.78"/><circle cx="511.0" cy="415.8" r="1.5" fill="#d0163a" fill-opacity="0.61"/><circle cx="486.5" cy="448.6" r="1.5" fill="#a80c28" fill-opacity="0.61"/><circle cx="458.3" cy="379.9" r="1.5" fill="#d0163a" fill-opacity="0.63"/><circle cx="493.5" cy="376.2" r="1.1" fill="#e01e42" fill-opacity="0.39"/><circle cx="406.5" cy="400.0" r="1.5" fill="#e01e42" fill-opacity="0.81"/><circle cx="392.1" cy="364.8" r="0.8" fill="#d0163a" fill-opacity="0.60"/><circle cx="475.2" cy="385.2" r="1.0" fill="#e01e42" fill-opacity="0.70"/><circle cx="418.9" cy="449.2" r="1.3" fill="#a80c28" fill-opacity="0.54"/><circle cx="484.4" cy="418.3" r="1.0" fill="#a80c28" fill-opacity="0.40"/><circle cx="459.0" cy="408.2" r="1.5" fill="#a80c28" fill-opacity="0.42"/><circle cx="407.0" cy="462.1" r="0.8" fill="#e01e42" fill-opacity="0.66"/><circle cx="486.0" cy="422.6" r="1.5" fill="#c81438" fill-opacity="0.51"/><circle cx="416.7" cy="406.2" r="0.8" fill="#c81438" fill-opacity="0.70"/><circle cx="414.1" cy="406.5" r="1.3" fill="#c81438" fill-opacity="0.66"/><circle cx="474.9" cy="450.7" r="1.0" fill="#c0102e" fill-opacity="0.66"/><circle cx="496.6" cy="404.2" r="1.3" fill="#e01e42" fill-opacity="0.69"/><circle cx="445.6" cy="434.9" r="1.3" fill="#d0163a" fill-opacity="0.81"/><circle cx="429.6" cy="466.0" r="1.0" fill="#a80c28" fill-opacity="0.79"/><circle cx="489.3" cy="379.9" r="1.0" fill="#e01e42" fill-opacity="0.72"/><circle cx="460.8" cy="431.0" r="1.3" fill="#d0163a" fill-opacity="0.65"/><circle cx="504.5" cy="463.5" r="0.8" fill="#c81438" fill-opacity="0.58"/><circle cx="414.1" cy="450.8" r="0.8" fill="#c81438" fill-opacity="0.82"/><circle cx="416.4" cy="448.8" r="0.8" fill="#c81438" fill-opacity="0.37"/><circle cx="413.1" cy="414.4" r="1.0" fill="#d0163a" fill-opacity="0.36"/><circle cx="440.5" cy="467.2" r="1.5" fill="#a80c28" fill-opacity="0.63"/><circle cx="482.3" cy="437.9" r="1.5" fill="#a80c28" fill-opacity="0.83"/><circle cx="399.7" cy="445.3" r="1.3" fill="#c0102e" fill-opacity="0.72"/><circle cx="386.4" cy="438.0" r="1.3" fill="#a80c28" fill-opacity="0.79"/><circle cx="395.8" cy="411.8" r="1.5" fill="#a80c28" fill-opacity="0.59"/><circle cx="477.7" cy="426.1" r="1.5" fill="#d0163a" fill-opacity="0.47"/><circle cx="435.4" cy="404.7" r="1.5" fill="#a80c28" fill-opacity="0.67"/><circle cx="499.0" cy="400.6" r="1.3" fill="#c0102e" fill-opacity="0.58"/><circle cx="496.6" cy="461.5" r="1.1" fill="#e01e42" fill-opacity="0.72"/><circle cx="434.9" cy="377.9" r="1.3" fill="#a80c28" fill-opacity="0.35"/><circle cx="488.9" cy="425.3" r="0.8" fill="#c81438" fill-opacity="0.80"/><circle cx="505.9" cy="430.6" r="1.0" fill="#e01e42" fill-opacity="0.44"/><circle cx="404.2" cy="443.4" r="1.0" fill="#c81438" fill-opacity="0.59"/><circle cx="468.3" cy="424.3" r="1.5" fill="#c0102e" fill-opacity="0.49"/><circle cx="399.6" cy="404.8" r="1.5" fill="#c0102e" fill-opacity="0.57"/><circle cx="389.3" cy="419.4" r="0.8" fill="#d0163a" fill-opacity="0.54"/><circle cx="381.2" cy="464.9" r="1.5" fill="#c81438" fill-opacity="0.39"/><circle cx="495.6" cy="430.4" r="1.3" fill="#c0102e" fill-opacity="0.35"/><circle cx="420.7" cy="427.7" r="1.1" fill="#c0102e" fill-opacity="0.61"/><circle cx="500.2" cy="382.1" r="1.5" fill="#c0102e" fill-opacity="0.45"/><circle cx="390.3" cy="439.6" r="1.1" fill="#e01e42" fill-opacity="0.55"/><circle cx="455.9" cy="464.1" r="1.1" fill="#e01e42" fill-opacity="0.85"/><circle cx="493.6" cy="390.4" r="0.8" fill="#c81438" fill-opacity="0.62"/><circle cx="412.3" cy="467.3" r="1.1" fill="#e01e42" fill-opacity="0.78"/><circle cx="429.9" cy="403.2" r="1.1" fill="#a80c28" fill-opacity="0.64"/><circle cx="429.3" cy="463.3" r="1.1" fill="#e01e42" fill-opacity="0.57"/><circle cx="473.1" cy="403.7" r="1.5" fill="#d0163a" fill-opacity="0.76"/><circle cx="451.5" cy="388.4" r="1.1" fill="#c81438" fill-opacity="0.40"/><circle cx="492.4" cy="411.8" r="1.3" fill="#c81438" fill-opacity="0.84"/><circle cx="392.1" cy="385.8" r="1.1" fill="#a80c28" fill-opacity="0.57"/><circle cx="373.4" cy="432.0" r="1.3" fill="#c0102e" fill-opacity="0.66"/><circle cx="495.2" cy="372.4" r="0.8" fill="#e01e42" fill-opacity="0.36"/><circle cx="420.0" cy="445.1" r="1.0" fill="#d0163a" fill-opacity="0.84"/><circle cx="371.4" cy="454.1" r="1.0" fill="#d0163a" fill-opacity="0.52"/><circle cx="417.2" cy="457.1" r="1.0" fill="#c81438" fill-opacity="0.76"/><circle cx="431.5" cy="396.7" r="1.3" fill="#e01e42" fill-opacity="0.80"/><circle cx="500.5" cy="367.0" r="1.3" fill="#c81438" fill-opacity="0.72"/><circle cx="502.3" cy="369.3" r="1.1" fill="#d0163a" fill-opacity="0.68"/><circle cx="462.7" cy="430.4" r="1.1" fill="#a80c28" fill-opacity="0.38"/><circle cx="503.9" cy="446.3" r="1.0" fill="#c0102e" fill-opacity="0.36"/><circle cx="414.1" cy="444.7" r="1.3" fill="#c81438" fill-opacity="0.63"/><circle cx="479.3" cy="398.2" r="0.8" fill="#c81438" fill-opacity="0.55"/><circle cx="398.9" cy="417.1" r="0.8" fill="#c0102e" fill-opacity="0.49"/><circle cx="500.8" cy="424.5" r="1.0" fill="#c0102e" fill-opacity="0.59"/><circle cx="479.5" cy="401.1" r="1.3" fill="#c0102e" fill-opacity="0.68"/><circle cx="501.2" cy="423.6" r="0.8" fill="#c0102e" fill-opacity="0.63"/><circle cx="451.8" cy="429.8" r="1.0" fill="#e01e42" fill-opacity="0.72"/><circle cx="467.6" cy="434.4" r="1.3" fill="#d0163a" fill-opacity="0.52"/><circle cx="416.7" cy="435.4" r="1.3" fill="#c81438" fill-opacity="0.72"/><circle cx="469.2" cy="383.3" r="1.3" fill="#d0163a" fill-opacity="0.78"/><circle cx="485.9" cy="389.7" r="1.5" fill="#c0102e" fill-opacity="0.70"/><circle cx="387.4" cy="448.8" r="0.8" fill="#a80c28" fill-opacity="0.76"/><circle cx="509.8" cy="435.0" r="1.5" fill="#e01e42" fill-opacity="0.63"/><circle cx="410.9" cy="441.2" r="1.1" fill="#d0163a" fill-opacity="0.83"/><circle cx="483.2" cy="410.0" r="1.5" fill="#c0102e" fill-opacity="0.36"/><circle cx="467.2" cy="406.2" r="0.8" fill="#e01e42" fill-opacity="0.65"/><circle cx="458.8" cy="428.7" r="0.8" fill="#d0163a" fill-opacity="0.44"/><circle cx="486.4" cy="399.1" r="1.5" fill="#d0163a" fill-opacity="0.44"/><circle cx="438.0" cy="466.8" r="0.8" fill="#c0102e" fill-opacity="0.70"/><circle cx="489.4" cy="413.1" r="1.1" fill="#c0102e" fill-opacity="0.49"/><circle cx="502.5" cy="398.8" r="1.0" fill="#d0163a" fill-opacity="0.38"/><circle cx="427.4" cy="396.9" r="1.0" fill="#c0102e" fill-opacity="0.60"/><circle cx="431.5" cy="373.2" r="1.1" fill="#c0102e" fill-opacity="0.48"/><circle cx="501.6" cy="453.1" r="1.1" fill="#a80c28" fill-opacity="0.56"/><circle cx="408.5" cy="439.8" r="0.8" fill="#e01e42" fill-opacity="0.47"/><circle cx="423.9" cy="433.9" r="1.5" fill="#c81438" fill-opacity="0.43"/><circle cx="470.7" cy="408.9" r="1.3" fill="#a80c28" fill-opacity="0.80"/><circle cx="419.3" cy="436.2" r="1.5" fill="#c0102e" fill-opacity="0.41"/><circle cx="437.6" cy="454.0" r="1.0" fill="#e01e42" fill-opacity="0.50"/><circle cx="422.8" cy="444.8" r="1.1" fill="#e01e42" fill-opacity="0.51"/><circle cx="459.8" cy="448.0" r="0.8" fill="#a80c28" fill-opacity="0.49"/><circle cx="490.4" cy="442.0" r="1.1" fill="#e01e42" fill-opacity="0.43"/><circle cx="399.4" cy="444.1" r="1.0" fill="#e01e42" fill-opacity="0.49"/><circle cx="496.0" cy="438.4" r="1.5" fill="#e01e42" fill-opacity="0.70"/><circle cx="475.4" cy="442.7" r="1.3" fill="#c81438" fill-opacity="0.49"/><circle cx="423.8" cy="449.6" r="1.0" fill="#c0102e" fill-opacity="0.72"/><circle cx="497.4" cy="422.5" r="0.8" fill="#d0163a" fill-opacity="0.73"/><circle cx="493.4" cy="387.7" r="1.3" fill="#c0102e" fill-opacity="0.66"/><circle cx="483.9" cy="388.6" r="1.3" fill="#c0102e" fill-opacity="0.46"/><circle cx="454.1" cy="410.7" r="1.3" fill="#c81438" fill-opacity="0.47"/><circle cx="406.3" cy="400.0" r="1.3" fill="#d0163a" fill-opacity="0.46"/><circle cx="413.7" cy="422.7" r="1.0" fill="#e01e42" fill-opacity="0.48"/><circle cx="456.7" cy="420.6" r="0.8" fill="#e01e42" fill-opacity="0.60"/><circle cx="487.1" cy="447.1" r="1.5" fill="#d0163a" fill-opacity="0.54"/><circle cx="388.7" cy="410.5" r="1.0" fill="#c81438" fill-opacity="0.80"/><circle cx="503.0" cy="380.6" r="1.1" fill="#c0102e" fill-opacity="0.62"/><circle cx="476.3" cy="376.4" r="1.5" fill="#c0102e" fill-opacity="0.42"/><circle cx="491.3" cy="451.6" r="1.1" fill="#c81438" fill-opacity="0.49"/><circle cx="480.1" cy="457.6" r="1.1" fill="#c81438" fill-opacity="0.66"/><circle cx="464.5" cy="402.3" r="1.1" fill="#d0163a" fill-opacity="0.48"/><circle cx="428.9" cy="432.9" r="1.3" fill="#c0102e" fill-opacity="0.64"/><circle cx="398.7" cy="416.2" r="1.1" fill="#c81438" fill-opacity="0.46"/><circle cx="459.1" cy="419.6" r="1.3" fill="#c81438" fill-opacity="0.78"/><circle cx="417.6" cy="400.4" r="1.0" fill="#c0102e" fill-opacity="0.68"/><circle cx="470.0" cy="416.7" r="1.3" fill="#a80c28" fill-opacity="0.79"/><circle cx="440.9" cy="425.0" r="1.0" fill="#a80c28" fill-opacity="0.40"/><circle cx="500.0" cy="365.7" r="1.5" fill="#a80c28" fill-opacity="0.85"/><circle cx="475.0" cy="387.8" r="1.5" fill="#c81438" fill-opacity="0.52"/><circle cx="476.3" cy="367.2" r="1.1" fill="#e01e42" fill-opacity="0.62"/><circle cx="386.8" cy="423.3" r="1.3" fill="#c81438" fill-opacity="0.75"/><circle cx="426.7" cy="467.5" r="1.0" fill="#a80c28" fill-opacity="0.61"/><circle cx="453.4" cy="373.1" r="1.1" fill="#d0163a" fill-opacity="0.62"/><circle cx="484.1" cy="456.2" r="1.3" fill="#e01e42" fill-opacity="0.49"/><circle cx="448.9" cy="400.9" r="1.1" fill="#d0163a" fill-opacity="0.42"/><circle cx="406.6" cy="380.1" r="1.1" fill="#c81438" fill-opacity="0.40"/><circle cx="409.1" cy="384.2" r="0.8" fill="#d0163a" fill-opacity="0.83"/><circle cx="425.0" cy="429.5" r="0.8" fill="#d0163a" fill-opacity="0.62"/><circle cx="420.0" cy="459.6" r="1.5" fill="#d0163a" fill-opacity="0.52"/><circle cx="500.2" cy="436.7" r="1.1" fill="#c0102e" fill-opacity="0.45"/><circle cx="481.5" cy="432.9" r="0.8" fill="#e01e42" fill-opacity="0.52"/><circle cx="455.5" cy="455.0" r="1.3" fill="#e01e42" fill-opacity="0.60"/><circle cx="490.7" cy="433.3" r="0.8" fill="#c0102e" fill-opacity="0.46"/><circle cx="468.7" cy="419.7" r="1.0" fill="#e01e42" fill-opacity="0.80"/><circle cx="502.1" cy="378.5" r="1.0" fill="#c81438" fill-opacity="0.42"/><circle cx="384.7" cy="384.9" r="0.8" fill="#c81438" fill-opacity="0.76"/><circle cx="455.4" cy="444.0" r="1.0" fill="#a80c28" fill-opacity="0.79"/><circle cx="426.2" cy="447.4" r="1.3" fill="#a80c28" fill-opacity="0.36"/><circle cx="506.9" cy="440.0" r="1.0" fill="#e01e42" fill-opacity="0.42"/><circle cx="414.3" cy="418.1" r="1.1" fill="#c0102e" fill-opacity="0.52"/><circle cx="421.3" cy="406.7" r="0.8" fill="#a80c28" fill-opacity="0.82"/><circle cx="462.9" cy="408.3" r="1.1" fill="#c81438" fill-opacity="0.48"/><circle cx="441.5" cy="412.3" r="1.1" fill="#d0163a" fill-opacity="0.59"/><circle cx="443.3" cy="392.1" r="1.0" fill="#a80c28" fill-opacity="0.57"/><circle cx="499.4" cy="402.3" r="1.1" fill="#c0102e" fill-opacity="0.40"/><circle cx="395.7" cy="403.2" r="0.8" fill="#a80c28" fill-opacity="0.65"/><circle cx="468.7" cy="429.9" r="1.3" fill="#d0163a" fill-opacity="0.57"/><circle cx="442.2" cy="456.5" r="0.8" fill="#d0163a" fill-opacity="0.65"/><circle cx="441.4" cy="416.6" r="1.0" fill="#c0102e" fill-opacity="0.72"/><circle cx="448.9" cy="435.3" r="1.0" fill="#d0163a" fill-opacity="0.39"/><circle cx="477.2" cy="403.2" r="1.1" fill="#c0102e" fill-opacity="0.58"/><circle cx="425.6" cy="442.8" r="1.5" fill="#a80c28" fill-opacity="0.57"/><circle cx="414.1" cy="398.9" r="1.5" fill="#e01e42" fill-opacity="0.65"/><circle cx="495.9" cy="417.0" r="0.8" fill="#d0163a" fill-opacity="0.45"/><circle cx="383.9" cy="442.2" r="1.3" fill="#e01e42" fill-opacity="0.83"/><circle cx="434.5" cy="436.7" r="1.1" fill="#c0102e" fill-opacity="0.76"/><circle cx="395.4" cy="442.3" r="1.3" fill="#d0163a" fill-opacity="0.83"/><circle cx="445.8" cy="401.4" r="1.3" fill="#c0102e" fill-opacity="0.68"/><circle cx="448.7" cy="394.1" r="1.3" fill="#e01e42" fill-opacity="0.76"/><circle cx="455.1" cy="427.7" r="1.1" fill="#a80c28" fill-opacity="0.74"/><circle cx="457.0" cy="417.9" r="1.3" fill="#c0102e" fill-opacity="0.43"/><circle cx="421.2" cy="411.3" r="1.5" fill="#e01e42" fill-opacity="0.73"/><circle cx="392.3" cy="431.8" r="1.1" fill="#c0102e" fill-opacity="0.43"/><circle cx="447.5" cy="405.7" r="1.3" fill="#e01e42" fill-opacity="0.82"/><circle cx="468.5" cy="406.8" r="1.1" fill="#c81438" fill-opacity="0.45"/><circle cx="382.3" cy="412.0" r="1.1" fill="#a80c28" fill-opacity="0.69"/><circle cx="442.4" cy="397.7" r="1.3" fill="#d0163a" fill-opacity="0.78"/><circle cx="410.6" cy="439.9" r="1.1" fill="#e01e42" fill-opacity="0.63"/><circle cx="387.4" cy="410.0" r="1.1" fill="#d0163a" fill-opacity="0.57"/><circle cx="498.8" cy="446.2" r="0.8" fill="#c0102e" fill-opacity="0.35"/><circle cx="391.1" cy="414.0" r="1.5" fill="#c0102e" fill-opacity="0.72"/><circle cx="482.0" cy="393.2" r="1.5" fill="#d0163a" fill-opacity="0.50"/><circle cx="488.9" cy="452.0" r="1.3" fill="#a80c28" fill-opacity="0.44"/><circle cx="490.8" cy="462.2" r="1.5" fill="#e01e42" fill-opacity="0.39"/><circle cx="459.5" cy="417.2" r="1.3" fill="#e01e42" fill-opacity="0.84"/><circle cx="429.2" cy="402.4" r="1.0" fill="#c0102e" fill-opacity="0.36"/><circle cx="462.4" cy="464.3" r="1.0" fill="#a80c28" fill-opacity="0.59"/><circle cx="450.2" cy="389.1" r="1.5" fill="#c0102e" fill-opacity="0.52"/><circle cx="491.3" cy="400.3" r="1.3" fill="#a80c28" fill-opacity="0.47"/><circle cx="417.5" cy="457.5" r="1.1" fill="#e01e42" fill-opacity="0.39"/><circle cx="406.9" cy="373.2" r="1.3" fill="#d0163a" fill-opacity="0.46"/><circle cx="386.4" cy="410.4" r="1.1" fill="#d0163a" fill-opacity="0.81"/><circle cx="421.3" cy="459.1" r="1.1" fill="#e01e42" fill-opacity="0.61"/><circle cx="501.0" cy="423.4" r="1.5" fill="#d0163a" fill-opacity="0.40"/><circle cx="384.5" cy="417.1" r="0.8" fill="#a80c28" fill-opacity="0.71"/><circle cx="433.9" cy="418.5" r="1.0" fill="#a80c28" fill-opacity="0.73"/><circle cx="390.4" cy="387.4" r="1.3" fill="#c81438" fill-opacity="0.77"/><circle cx="463.3" cy="431.8" r="1.5" fill="#c81438" fill-opacity="0.46"/><circle cx="426.1" cy="415.0" r="1.0" fill="#e01e42" fill-opacity="0.50"/><circle cx="386.5" cy="443.8" r="1.0" fill="#c81438" fill-opacity="0.84"/><circle cx="441.6" cy="456.9" r="1.5" fill="#c0102e" fill-opacity="0.44"/><circle cx="510.1" cy="404.1" r="1.3" fill="#c81438" fill-opacity="0.51"/><circle cx="381.4" cy="426.4" r="1.0" fill="#a80c28" fill-opacity="0.78"/><circle cx="417.2" cy="439.4" r="1.0" fill="#c81438" fill-opacity="0.80"/><circle cx="380.3" cy="427.2" r="0.8" fill="#a80c28" fill-opacity="0.74"/><circle cx="497.3" cy="375.3" r="1.0" fill="#d0163a" fill-opacity="0.78"/><circle cx="458.4" cy="411.5" r="1.5" fill="#e01e42" fill-opacity="0.66"/><circle cx="487.3" cy="412.3" r="1.0" fill="#a80c28" fill-opacity="0.84"/><circle cx="394.7" cy="422.4" r="1.5" fill="#e01e42" fill-opacity="0.51"/><circle cx="383.7" cy="436.7" r="1.3" fill="#c0102e" fill-opacity="0.58"/><circle cx="434.6" cy="462.6" r="1.1" fill="#c81438" fill-opacity="0.49"/><circle cx="405.3" cy="411.5" r="1.0" fill="#c81438" fill-opacity="0.38"/><circle cx="397.0" cy="382.6" r="1.1" fill="#d0163a" fill-opacity="0.60"/><circle cx="424.1" cy="444.1" r="1.3" fill="#d0163a" fill-opacity="0.62"/><circle cx="431.8" cy="444.4" r="0.8" fill="#a80c28" fill-opacity="0.85"/><circle cx="393.8" cy="391.9" r="1.3" fill="#e01e42" fill-opacity="0.53"/><circle cx="430.1" cy="452.6" r="1.0" fill="#a80c28" fill-opacity="0.49"/><circle cx="496.5" cy="461.0" r="0.8" fill="#a80c28" fill-opacity="0.82"/><circle cx="425.7" cy="401.9" r="1.5" fill="#c81438" fill-opacity="0.42"/><circle cx="453.8" cy="427.2" r="1.5" fill="#e01e42" fill-opacity="0.79"/><circle cx="496.5" cy="435.8" r="0.8" fill="#c81438" fill-opacity="0.81"/><circle cx="432.1" cy="461.0" r="1.0" fill="#d0163a" fill-opacity="0.38"/><circle cx="414.7" cy="442.6" r="1.3" fill="#c81438" fill-opacity="0.59"/><circle cx="494.6" cy="375.7" r="0.8" fill="#d0163a" fill-opacity="0.79"/><circle cx="423.6" cy="386.9" r="1.3" fill="#c0102e" fill-opacity="0.41"/><circle cx="417.5" cy="435.9" r="1.0" fill="#a80c28" fill-opacity="0.73"/><circle cx="451.5" cy="445.1" r="1.0" fill="#c0102e" fill-opacity="0.61"/><circle cx="387.8" cy="451.0" r="1.1" fill="#e01e42" fill-opacity="0.46"/><circle cx="437.7" cy="368.1" r="1.0" fill="#c81438" fill-opacity="0.75"/><circle cx="478.6" cy="460.1" r="1.5" fill="#c0102e" fill-opacity="0.59"/><circle cx="480.9" cy="463.3" r="1.1" fill="#a80c28" fill-opacity="0.35"/><circle cx="494.2" cy="386.2" r="1.1" fill="#d0163a" fill-opacity="0.48"/><circle cx="498.4" cy="368.5" r="1.5" fill="#d0163a" fill-opacity="0.72"/><circle cx="483.8" cy="416.3" r="1.1" fill="#a80c28" fill-opacity="0.52"/><circle cx="461.4" cy="403.5" r="1.3" fill="#a80c28" fill-opacity="0.76"/><circle cx="484.9" cy="400.1" r="1.1" fill="#c81438" fill-opacity="0.54"/><circle cx="424.2" cy="449.9" r="1.0" fill="#a80c28" fill-opacity="0.59"/><circle cx="434.9" cy="369.5" r="1.3" fill="#c81438" fill-opacity="0.42"/><circle cx="404.7" cy="465.2" r="1.1" fill="#d0163a" fill-opacity="0.46"/><circle cx="442.2" cy="461.4" r="1.1" fill="#a80c28" fill-opacity="0.63"/><circle cx="420.7" cy="402.8" r="1.0" fill="#e01e42" fill-opacity="0.45"/><circle cx="498.0" cy="401.3" r="1.1" fill="#a80c28" fill-opacity="0.68"/><circle cx="472.3" cy="407.2" r="1.5" fill="#c0102e" fill-opacity="0.50"/><circle cx="494.7" cy="458.6" r="1.5" fill="#d0163a" fill-opacity="0.68"/><circle cx="478.2" cy="428.0" r="1.1" fill="#d0163a" fill-opacity="0.79"/><circle cx="421.1" cy="439.8" r="1.0" fill="#c0102e" fill-opacity="0.39"/><circle cx="412.5" cy="442.7" r="1.0" fill="#c0102e" fill-opacity="0.61"/><circle cx="422.6" cy="398.1" r="1.3" fill="#c81438" fill-opacity="0.83"/><circle cx="399.6" cy="413.9" r="1.5" fill="#a80c28" fill-opacity="0.78"/><circle cx="415.1" cy="372.6" r="1.0" fill="#c81438" fill-opacity="0.79"/><circle cx="453.0" cy="379.8" r="1.5" fill="#e01e42" fill-opacity="0.36"/><circle cx="466.2" cy="388.1" r="1.0" fill="#c0102e" fill-opacity="0.46"/><circle cx="483.3" cy="466.4" r="0.8" fill="#e01e42" fill-opacity="0.44"/><circle cx="429.9" cy="463.3" r="1.1" fill="#d0163a" fill-opacity="0.83"/><circle cx="462.2" cy="441.2" r="1.5" fill="#d0163a" fill-opacity="0.40"/><circle cx="486.5" cy="383.2" r="1.1" fill="#c81438" fill-opacity="0.40"/><circle cx="481.1" cy="437.2" r="1.1" fill="#c81438" fill-opacity="0.63"/><circle cx="490.5" cy="431.2" r="1.5" fill="#c0102e" fill-opacity="0.48"/><circle cx="415.1" cy="427.1" r="1.5" fill="#a80c28" fill-opacity="0.84"/><circle cx="433.3" cy="460.2" r="0.8" fill="#c0102e" fill-opacity="0.39"/><circle cx="463.3" cy="440.7" r="0.8" fill="#d0163a" fill-opacity="0.50"/><circle cx="392.2" cy="466.4" r="1.0" fill="#c0102e" fill-opacity="0.48"/><circle cx="437.5" cy="393.3" r="1.0" fill="#e01e42" fill-opacity="0.78"/><circle cx="436.7" cy="409.9" r="0.8" fill="#c0102e" fill-opacity="0.54"/><circle cx="466.8" cy="369.8" r="1.0" fill="#c81438" fill-opacity="0.70"/><circle cx="465.6" cy="416.7" r="1.1" fill="#a80c28" fill-opacity="0.50"/><circle cx="373.6" cy="440.8" r="1.3" fill="#e01e42" fill-opacity="0.44"/><circle cx="447.1" cy="396.5" r="1.1" fill="#a80c28" fill-opacity="0.50"/><circle cx="405.0" cy="431.8" r="1.0" fill="#d0163a" fill-opacity="0.63"/><circle cx="404.2" cy="404.2" r="1.0" fill="#e01e42" fill-opacity="0.65"/><circle cx="393.3" cy="386.4" r="0.8" fill="#d0163a" fill-opacity="0.54"/><circle cx="445.5" cy="436.6" r="1.0" fill="#d0163a" fill-opacity="0.76"/><circle cx="502.1" cy="442.2" r="1.3" fill="#c81438" fill-opacity="0.39"/><circle cx="414.2" cy="440.1" r="1.5" fill="#c0102e" fill-opacity="0.61"/><circle cx="429.4" cy="418.3" r="1.1" fill="#a80c28" fill-opacity="0.64"/><circle cx="468.1" cy="399.2" r="0.8" fill="#e01e42" fill-opacity="0.74"/><circle cx="494.8" cy="408.8" r="1.0" fill="#c81438" fill-opacity="0.60"/><circle cx="423.3" cy="412.2" r="0.8" fill="#e01e42" fill-opacity="0.58"/><circle cx="399.7" cy="436.0" r="0.8" fill="#c81438" fill-opacity="0.63"/><circle cx="397.9" cy="409.9" r="0.8" fill="#c0102e" fill-opacity="0.59"/><circle cx="483.3" cy="371.8" r="1.0" fill="#a80c28" fill-opacity="0.72"/><circle cx="443.6" cy="414.2" r="1.5" fill="#e01e42" fill-opacity="0.67"/><circle cx="478.8" cy="392.4" r="1.3" fill="#c81438" fill-opacity="0.78"/><circle cx="375.9" cy="383.2" r="0.8" fill="#a80c28" fill-opacity="0.59"/><circle cx="395.4" cy="444.7" r="1.3" fill="#c0102e" fill-opacity="0.61"/><circle cx="399.2" cy="407.8" r="1.3" fill="#c0102e" fill-opacity="0.72"/><circle cx="423.0" cy="438.3" r="1.1" fill="#d0163a" fill-opacity="0.50"/><circle cx="474.8" cy="423.6" r="1.1" fill="#e01e42" fill-opacity="0.57"/><circle cx="482.2" cy="414.3" r="0.8" fill="#a80c28" fill-opacity="0.59"/><circle cx="433.0" cy="446.9" r="1.3" fill="#e01e42" fill-opacity="0.64"/><circle cx="423.2" cy="426.8" r="1.5" fill="#d0163a" fill-opacity="0.35"/><circle cx="504.6" cy="409.1" r="1.3" fill="#e01e42" fill-opacity="0.47"/><circle cx="506.3" cy="459.4" r="1.1" fill="#a80c28" fill-opacity="0.70"/><circle cx="405.5" cy="413.9" r="1.3" fill="#a80c28" fill-opacity="0.85"/><circle cx="431.4" cy="429.6" r="1.1" fill="#e01e42" fill-opacity="0.59"/><circle cx="496.9" cy="431.9" r="1.0" fill="#c0102e" fill-opacity="0.73"/><circle cx="495.1" cy="462.0" r="1.3" fill="#c0102e" fill-opacity="0.53"/><circle cx="391.6" cy="411.6" r="1.3" fill="#c81438" fill-opacity="0.70"/><circle cx="475.6" cy="394.0" r="1.3" fill="#d0163a" fill-opacity="0.58"/><circle cx="437.4" cy="418.3" r="0.8" fill="#d0163a" fill-opacity="0.51"/><circle cx="395.3" cy="415.9" r="1.3" fill="#e01e42" fill-opacity="0.83"/><circle cx="420.8" cy="399.4" r="0.8" fill="#c0102e" fill-opacity="0.47"/><circle cx="449.1" cy="458.7" r="1.3" fill="#a80c28" fill-opacity="0.77"/><circle cx="377.2" cy="440.1" r="1.1" fill="#c0102e" fill-opacity="0.83"/><circle cx="498.4" cy="441.1" r="1.0" fill="#c81438" fill-opacity="0.77"/><circle cx="443.9" cy="392.4" r="1.5" fill="#d0163a" fill-opacity="0.45"/><circle cx="441.3" cy="402.2" r="1.3" fill="#e01e42" fill-opacity="0.73"/><circle cx="471.1" cy="449.5" r="1.1" fill="#c0102e" fill-opacity="0.51"/><circle cx="475.9" cy="421.8" r="1.0" fill="#c81438" fill-opacity="0.65"/><circle cx="459.9" cy="400.4" r="0.8" fill="#d0163a" fill-opacity="0.36"/><circle cx="496.2" cy="448.4" r="1.0" fill="#c81438" fill-opacity="0.36"/><circle cx="466.1" cy="417.9" r="1.3" fill="#e01e42" fill-opacity="0.72"/><circle cx="478.3" cy="462.6" r="1.0" fill="#c81438" fill-opacity="0.38"/><circle cx="392.7" cy="451.4" r="1.5" fill="#d0163a" fill-opacity="0.77"/><circle cx="507.6" cy="377.3" r="1.0" fill="#c0102e" fill-opacity="0.69"/><circle cx="402.5" cy="456.4" r="1.0" fill="#d0163a" fill-opacity="0.55"/><circle cx="480.5" cy="446.5" r="1.3" fill="#c0102e" fill-opacity="0.57"/><circle cx="491.8" cy="397.5" r="0.8" fill="#c0102e" fill-opacity="0.82"/><circle cx="477.6" cy="419.3" r="1.0" fill="#c0102e" fill-opacity="0.51"/><circle cx="438.4" cy="431.3" r="1.3" fill="#c81438" fill-opacity="0.42"/><circle cx="463.4" cy="432.9" r="1.3" fill="#a80c28" fill-opacity="0.41"/><circle cx="410.3" cy="443.8" r="0.8" fill="#d0163a" fill-opacity="0.60"/><circle cx="487.0" cy="378.3" r="1.3" fill="#d0163a" fill-opacity="0.55"/><circle cx="439.2" cy="397.8" r="1.0" fill="#e01e42" fill-opacity="0.56"/><circle cx="430.9" cy="404.6" r="1.5" fill="#e01e42" fill-opacity="0.84"/><circle cx="428.6" cy="402.1" r="1.1" fill="#d0163a" fill-opacity="0.47"/><circle cx="482.0" cy="371.7" r="1.3" fill="#d0163a" fill-opacity="0.51"/><circle cx="379.8" cy="441.6" r="1.1" fill="#c81438" fill-opacity="0.52"/><circle cx="498.3" cy="366.9" r="1.1" fill="#c81438" fill-opacity="0.45"/><circle cx="374.5" cy="439.0" r="0.8" fill="#a80c28" fill-opacity="0.68"/><circle cx="421.1" cy="444.3" r="0.8" fill="#c0102e" fill-opacity="0.50"/><circle cx="404.1" cy="401.2" r="1.0" fill="#c0102e" fill-opacity="0.43"/><circle cx="442.8" cy="432.0" r="0.8" fill="#e01e42" fill-opacity="0.65"/><circle cx="391.5" cy="410.8" r="1.3" fill="#e01e42" fill-opacity="0.59"/><circle cx="503.8" cy="418.8" r="1.3" fill="#c81438" fill-opacity="0.36"/><circle cx="388.6" cy="459.4" r="1.3" fill="#e01e42" fill-opacity="0.57"/><circle cx="486.1" cy="441.6" r="1.1" fill="#c81438" fill-opacity="0.74"/><circle cx="455.8" cy="377.0" r="1.5" fill="#c0102e" fill-opacity="0.58"/><circle cx="415.1" cy="407.8" r="1.1" fill="#d0163a" fill-opacity="0.85"/><circle cx="510.6" cy="399.3" r="1.5" fill="#c0102e" fill-opacity="0.42"/><circle cx="435.0" cy="434.0" r="1.3" fill="#c0102e" fill-opacity="0.79"/><circle cx="485.8" cy="434.2" r="0.8" fill="#a80c28" fill-opacity="0.59"/><circle cx="476.2" cy="373.9" r="1.1" fill="#c0102e" fill-opacity="0.42"/><circle cx="422.0" cy="380.7" r="1.0" fill="#c81438" fill-opacity="0.61"/><circle cx="473.2" cy="392.2" r="0.8" fill="#a80c28" fill-opacity="0.76"/><circle cx="412.3" cy="414.3" r="1.0" fill="#a80c28" fill-opacity="0.42"/><circle cx="458.2" cy="419.5" r="1.0" fill="#c81438" fill-opacity="0.42"/><circle cx="446.4" cy="429.4" r="0.8" fill="#c0102e" fill-opacity="0.52"/><circle cx="387.3" cy="383.9" r="0.8" fill="#a80c28" fill-opacity="0.41"/><circle cx="396.3" cy="416.3" r="1.5" fill="#e01e42" fill-opacity="0.50"/><circle cx="380.5" cy="390.6" r="0.8" fill="#d0163a" fill-opacity="0.52"/><circle cx="471.8" cy="464.5" r="1.3" fill="#c81438" fill-opacity="0.74"/><circle cx="483.2" cy="403.6" r="1.3" fill="#c0102e" fill-opacity="0.45"/><circle cx="384.1" cy="458.2" r="1.5" fill="#d0163a" fill-opacity="0.77"/><circle cx="451.8" cy="427.8" r="1.1" fill="#a80c28" fill-opacity="0.50"/><circle cx="397.9" cy="402.1" r="1.0" fill="#d0163a" fill-opacity="0.36"/><circle cx="408.8" cy="457.5" r="1.1" fill="#e01e42" fill-opacity="0.75"/><circle cx="485.7" cy="432.7" r="0.8" fill="#a80c28" fill-opacity="0.47"/><circle cx="466.6" cy="418.5" r="1.1" fill="#c81438" fill-opacity="0.62"/><circle cx="433.4" cy="442.1" r="1.1" fill="#a80c28" fill-opacity="0.82"/><circle cx="413.7" cy="446.2" r="1.0" fill="#a80c28" fill-opacity="0.59"/><circle cx="493.9" cy="467.4" r="1.3" fill="#c0102e" fill-opacity="0.58"/><circle cx="437.4" cy="447.6" r="0.8" fill="#a80c28" fill-opacity="0.66"/><circle cx="471.4" cy="450.7" r="1.5" fill="#c81438" fill-opacity="0.58"/><circle cx="415.6" cy="449.4" r="1.3" fill="#c0102e" fill-opacity="0.52"/><circle cx="380.8" cy="411.3" r="1.3" fill="#c81438" fill-opacity="0.40"/><circle cx="476.0" cy="417.4" r="1.0" fill="#d0163a" fill-opacity="0.79"/><circle cx="487.1" cy="460.1" r="1.3" fill="#a80c28" fill-opacity="0.62"/><circle cx="402.3" cy="448.5" r="1.3" fill="#e01e42" fill-opacity="0.57"/><circle cx="492.9" cy="390.0" r="1.3" fill="#a80c28" fill-opacity="0.60"/><circle cx="476.3" cy="383.5" r="1.5" fill="#a80c28" fill-opacity="0.45"/><circle cx="490.2" cy="408.0" r="0.8" fill="#c0102e" fill-opacity="0.66"/><circle cx="464.1" cy="383.2" r="1.5" fill="#c81438" fill-opacity="0.53"/><circle cx="417.3" cy="398.8" r="1.3" fill="#e01e42" fill-opacity="0.53"/><circle cx="480.7" cy="429.5" r="1.5" fill="#c0102e" fill-opacity="0.84"/><circle cx="479.9" cy="413.4" r="0.8" fill="#a80c28" fill-opacity="0.36"/><circle cx="477.8" cy="427.0" r="0.8" fill="#a80c28" fill-opacity="0.63"/><circle cx="504.5" cy="424.5" r="1.5" fill="#a80c28" fill-opacity="0.53"/><circle cx="435.8" cy="405.2" r="1.3" fill="#c81438" fill-opacity="0.52"/><circle cx="416.3" cy="444.3" r="1.1" fill="#e01e42" fill-opacity="0.69"/><circle cx="406.1" cy="398.9" r="0.8" fill="#e01e42" fill-opacity="0.46"/><circle cx="425.0" cy="399.6" r="1.1" fill="#e01e42" fill-opacity="0.65"/><circle cx="438.7" cy="424.3" r="1.3" fill="#e01e42" fill-opacity="0.72"/><circle cx="507.6" cy="448.8" r="0.8" fill="#c0102e" fill-opacity="0.70"/><circle cx="423.0" cy="426.9" r="1.3" fill="#e01e42" fill-opacity="0.54"/><circle cx="437.0" cy="459.3" r="1.1" fill="#a80c28" fill-opacity="0.73"/><circle cx="422.4" cy="467.0" r="1.0" fill="#d0163a" fill-opacity="0.60"/><circle cx="421.6" cy="464.9" r="1.1" fill="#a80c28" fill-opacity="0.74"/><circle cx="460.3" cy="394.0" r="0.8" fill="#a80c28" fill-opacity="0.55"/><circle cx="457.5" cy="404.8" r="1.3" fill="#e01e42" fill-opacity="0.66"/><circle cx="503.9" cy="393.3" r="0.8" fill="#e01e42" fill-opacity="0.47"/><circle cx="459.1" cy="431.7" r="1.0" fill="#c81438" fill-opacity="0.79"/><circle cx="449.5" cy="465.6" r="1.3" fill="#e01e42" fill-opacity="0.38"/><circle cx="482.5" cy="447.5" r="1.1" fill="#d0163a" fill-opacity="0.78"/><circle cx="413.1" cy="392.1" r="1.5" fill="#a80c28" fill-opacity="0.63"/><circle cx="489.6" cy="396.9" r="1.3" fill="#a80c28" fill-opacity="0.76"/><circle cx="378.3" cy="372.5" r="1.3" fill="#c0102e" fill-opacity="0.75"/><circle cx="404.5" cy="437.3" r="1.5" fill="#c81438" fill-opacity="0.75"/><circle cx="476.1" cy="399.7" r="1.5" fill="#d0163a" fill-opacity="0.48"/><circle cx="472.1" cy="388.1" r="1.1" fill="#a80c28" fill-opacity="0.46"/><circle cx="484.9" cy="370.3" r="0.8" fill="#e01e42" fill-opacity="0.58"/></g>
<rect x="371" y="364.6" width="141" height="104" filter="url(#dsb)" mask="url(#dsm)"/>
</g>
<rect x="371" y="363.8" width="103" height="18.6" fill="#2e2628" fill-opacity="0.85"/>
<text x="378.6" y="379.2" font-size="14.2" font-style="italic" class="w">gata1:DsRed</text>
<rect x="371" y="363.8" width="139.8" height="103.8" rx="3" fill="none" stroke="#241418" stroke-width="1.4"/>
<rect x="478.5" y="462.9" width="26.7" height="1.6" fill="#fff"/>
<rect x="27.2" y="539.9" width="75.9" height="230" fill="#3f7fb5"/>
<rect x="103" y="539.9" width="76.2" height="230" fill="#6a0a80"/>
<g shape-rendering="crispEdges"><rect x="30.4" y="540" width="36.80" height="6.50" fill="#f0b070"/><rect x="66.8" y="540" width="34.50" height="6.50" fill="#e07850"/><rect x="30.4" y="546" width="36.80" height="7.10" fill="#f8dc90"/><rect x="66.8" y="546" width="34.50" height="7.10" fill="#d4503a"/><rect x="30.4" y="552.6" width="36.80" height="5.90" fill="#eba060"/><rect x="66.8" y="552.6" width="34.50" height="5.90" fill="#e8935a"/><rect x="30.4" y="558" width="36.80" height="5.50" fill="#e89a5c"/><rect x="66.8" y="558" width="34.50" height="5.50" fill="#f0a868"/><rect x="30.4" y="563" width="36.80" height="10.90" fill="#e07c50"/><rect x="66.8" y="563" width="34.50" height="10.90" fill="#f0b870"/><rect x="30.4" y="573.4" width="36.80" height="3.10" fill="#eef6f8"/><rect x="66.8" y="573.4" width="34.50" height="3.10" fill="#c02020"/><rect x="30.4" y="576" width="36.80" height="14.50" fill="#dd7048"/><rect x="66.8" y="576" width="34.50" height="14.50" fill="#f2c078"/><rect x="30.4" y="590" width="36.80" height="7.50" fill="#de6a46"/><rect x="66.8" y="590" width="34.50" height="7.50" fill="#f4d088"/><rect x="30.4" y="597" width="36.80" height="8.50" fill="#e08050"/><rect x="66.8" y="597" width="34.50" height="8.50" fill="#eca868"/><rect x="30.4" y="605" width="36.80" height="13.20" fill="#dc6a44"/><rect x="66.8" y="605" width="34.50" height="13.20" fill="#f2c07c"/><rect x="30.4" y="617.7" width="36.80" height="5.10" fill="#e07a4c"/><rect x="66.8" y="617.7" width="34.50" height="5.10" fill="#eca86a"/><rect x="30.4" y="622.3" width="36.80" height="15.90" fill="#d85c3c"/><rect x="66.8" y="622.3" width="34.50" height="15.90" fill="#f4cc84"/><rect x="30.4" y="637.7" width="36.80" height="5.80" fill="#cc4430"/><rect x="66.8" y="637.7" width="34.50" height="5.80" fill="#fbeeb0"/><rect x="30.4" y="643" width="36.80" height="4.10" fill="#c83a2c"/><rect x="66.8" y="643" width="34.50" height="4.10" fill="#e0eef6"/><rect x="30.4" y="646.6" width="36.80" height="7.40" fill="#b8d8ec"/><rect x="66.8" y="646.6" width="34.50" height="7.40" fill="#a0c4e0"/><rect x="30.4" y="653.5" width="36.80" height="7.40" fill="#c0dcee"/><rect x="66.8" y="653.5" width="34.50" height="7.40" fill="#88acd4"/><rect x="30.4" y="660.4" width="36.80" height="2.10" fill="#e4f0f6"/><rect x="66.8" y="660.4" width="34.50" height="2.10" fill="#b0cce4"/><rect x="30.4" y="662" width="36.80" height="5.00" fill="#a8c8e2"/><rect x="66.8" y="662" width="34.50" height="5.00" fill="#b4d2e8"/><rect x="30.4" y="666.5" width="36.80" height="7.50" fill="#cce4f0"/><rect x="66.8" y="666.5" width="34.50" height="7.50" fill="#88acd4"/><rect x="30.4" y="673.5" width="36.80" height="2.80" fill="#c0dcec"/><rect x="66.8" y="673.5" width="34.50" height="2.80" fill="#a8c8e2"/><rect x="30.4" y="675.8" width="36.80" height="6.70" fill="#90b4d8"/><rect x="66.8" y="675.8" width="34.50" height="6.70" fill="#d8ecf4"/><rect x="30.4" y="682" width="36.80" height="8.10" fill="#7ca0cc"/><rect x="66.8" y="682" width="34.50" height="8.10" fill="#d8ecf4"/><rect x="30.4" y="689.6" width="36.80" height="1.90" fill="#dceef6"/><rect x="66.8" y="689.6" width="34.50" height="1.90" fill="#fcf8c8"/><rect x="30.4" y="691" width="36.80" height="6.80" fill="#d4e8f4"/><rect x="66.8" y="691" width="34.50" height="6.80" fill="#a8c8e2"/><rect x="30.4" y="697.3" width="36.80" height="6.20" fill="#c4def0"/><rect x="66.8" y="697.3" width="34.50" height="6.20" fill="#b8d4ea"/><rect x="30.4" y="703" width="36.80" height="5.20" fill="#b0d0e6"/><rect x="66.8" y="703" width="34.50" height="5.20" fill="#b8d6ea"/><rect x="30.4" y="707.7" width="36.80" height="6.60" fill="#e8f4f6"/><rect x="66.8" y="707.7" width="34.50" height="6.60" fill="#88acd4"/><rect x="30.4" y="713.8" width="36.80" height="6.70" fill="#b8d6ea"/><rect x="66.8" y="713.8" width="34.50" height="6.70" fill="#b8d6ea"/><rect x="30.4" y="720" width="36.80" height="5.10" fill="#9cbedc"/><rect x="66.8" y="720" width="34.50" height="5.10" fill="#f4f6dc"/><rect x="30.4" y="724.6" width="36.80" height="5.10" fill="#88acd4"/><rect x="66.8" y="724.6" width="34.50" height="5.10" fill="#e8f2f4"/><rect x="30.4" y="729.2" width="36.80" height="7.30" fill="#a0c0dc"/><rect x="66.8" y="729.2" width="34.50" height="7.30" fill="#fbf6d0"/><rect x="66.8" y="540.00" width="34.50" height="1.60" fill="#ffffff" fill-opacity="0.024"/><rect x="30.4" y="541.60" width="36.40" height="2.87" fill="#ffffff" fill-opacity="0.030"/><rect x="66.8" y="541.60" width="34.50" height="2.87" fill="#ffffff" fill-opacity="0.044"/><rect x="30.4" y="544.47" width="36.40" height="2.87" fill="#ffffff" fill-opacity="0.024"/><rect x="66.8" y="544.47" width="34.50" height="2.87" fill="#ffffff" fill-opacity="0.042"/><rect x="30.4" y="547.34" width="36.40" height="2.87" fill="#000000" fill-opacity="0.028"/><rect x="30.4" y="550.21" width="36.40" height="2.87" fill="#ffffff" fill-opacity="0.044"/><rect x="30.4" y="553.08" width="36.40" height="2.87" fill="#ffffff" fill-opacity="0.040"/><rect x="66.8" y="553.08" width="34.50" height="2.87" fill="#000000" fill-opacity="0.023"/><rect x="66.8" y="555.95" width="34.50" height="2.87" fill="#000000" fill-opacity="0.015"/><rect x="30.4" y="561.69" width="36.40" height="2.87" fill="#000000" fill-opacity="0.029"/><rect x="66.8" y="561.69" width="34.50" height="2.87" fill="#000000" fill-opacity="0.017"/><rect x="30.4" y="564.56" width="36.40" height="2.87" fill="#000000" fill-opacity="0.013"/><rect x="66.8" y="564.56" width="34.50" height="2.87" fill="#ffffff" fill-opacity="0.042"/><rect x="30.4" y="567.43" width="36.40" height="2.87" fill="#ffffff" fill-opacity="0.027"/><rect x="66.8" y="567.43" width="34.50" height="2.87" fill="#000000" fill-opacity="0.020"/><rect x="30.4" y="570.30" width="36.40" height="2.87" fill="#ffffff" fill-opacity="0.030"/><rect x="66.8" y="570.30" width="34.50" height="2.87" fill="#000000" fill-opacity="0.022"/><rect x="66.8" y="573.17" width="34.50" height="2.87" fill="#000000" fill-opacity="0.022"/><rect x="30.4" y="576.04" width="36.40" height="2.87" fill="#000000" fill-opacity="0.030"/><rect x="66.8" y="576.04" width="34.50" height="2.87" fill="#ffffff" fill-opacity="0.037"/><rect x="30.4" y="578.91" width="36.40" height="2.87" fill="#000000" fill-opacity="0.017"/><rect x="66.8" y="578.91" width="34.50" height="2.87" fill="#000000" fill-opacity="0.017"/><rect x="30.4" y="581.78" width="36.40" height="2.87" fill="#ffffff" fill-opacity="0.048"/><rect x="66.8" y="581.78" width="34.50" height="2.87" fill="#ffffff" fill-opacity="0.037"/><rect x="30.4" y="584.65" width="36.40" height="2.87" fill="#000000" fill-opacity="0.013"/><rect x="66.8" y="584.65" width="34.50" height="2.87" fill="#ffffff" fill-opacity="0.046"/><rect x="66.8" y="587.52" width="34.50" height="2.87" fill="#ffffff" fill-opacity="0.018"/><rect x="30.4" y="590.39" width="36.40" height="2.87" fill="#000000" fill-opacity="0.018"/><rect x="66.8" y="590.39" width="34.50" height="2.87" fill="#ffffff" fill-opacity="0.044"/><rect x="30.4" y="593.26" width="36.40" height="2.87" fill="#ffffff" fill-opacity="0.019"/><rect x="66.8" y="593.26" width="34.50" height="2.87" fill="#ffffff" fill-opacity="0.047"/><rect x="30.4" y="596.13" width="36.40" height="2.87" fill="#ffffff" fill-opacity="0.039"/><rect x="66.8" y="596.13" width="34.50" height="2.87" fill="#000000" fill-opacity="0.012"/><rect x="66.8" y="599.00" width="34.50" height="2.87" fill="#000000" fill-opacity="0.020"/><rect x="30.4" y="601.87" width="36.40" height="2.87" fill="#000000" fill-opacity="0.021"/><rect x="66.8" y="601.87" width="34.50" height="2.87" fill="#000000" fill-opacity="0.026"/><rect x="30.4" y="604.74" width="36.40" height="2.87" fill="#000000" fill-opacity="0.012"/><rect x="30.4" y="607.61" width="36.40" height="2.87" fill="#000000" fill-opacity="0.030"/><rect x="66.8" y="607.61" width="34.50" height="2.87" fill="#ffffff" fill-opacity="0.018"/><rect x="30.4" y="610.48" width="36.40" height="2.87" fill="#000000" fill-opacity="0.010"/><rect x="66.8" y="610.48" width="34.50" height="2.87" fill="#000000" fill-opacity="0.011"/><rect x="30.4" y="613.35" width="36.40" height="2.87" fill="#ffffff" fill-opacity="0.032"/><rect x="30.4" y="616.22" width="36.40" height="2.87" fill="#000000" fill-opacity="0.011"/><rect x="30.4" y="619.09" width="36.40" height="2.87" fill="#ffffff" fill-opacity="0.020"/><rect x="66.8" y="619.09" width="34.50" height="2.87" fill="#000000" fill-opacity="0.027"/><rect x="30.4" y="621.96" width="36.40" height="2.87" fill="#ffffff" fill-opacity="0.048"/><rect x="66.8" y="621.96" width="34.50" height="2.87" fill="#000000" fill-opacity="0.029"/><rect x="30.4" y="624.83" width="36.40" height="2.87" fill="#ffffff" fill-opacity="0.025"/><rect x="66.8" y="624.83" width="34.50" height="2.87" fill="#ffffff" fill-opacity="0.034"/><rect x="30.4" y="627.70" width="36.40" height="2.87" fill="#000000" fill-opacity="0.029"/><rect x="66.8" y="627.70" width="34.50" height="2.87" fill="#ffffff" fill-opacity="0.029"/><rect x="30.4" y="633.44" width="36.40" height="2.87" fill="#000000" fill-opacity="0.029"/><rect x="66.8" y="633.44" width="34.50" height="2.87" fill="#000000" fill-opacity="0.027"/><rect x="30.4" y="636.31" width="36.40" height="2.87" fill="#000000" fill-opacity="0.019"/><rect x="66.8" y="636.31" width="34.50" height="2.87" fill="#ffffff" fill-opacity="0.046"/><rect x="30.4" y="639.18" width="36.40" height="2.87" fill="#000000" fill-opacity="0.018"/><rect x="66.8" y="639.18" width="34.50" height="2.87" fill="#ffffff" fill-opacity="0.026"/><rect x="30.4" y="642.05" width="36.40" height="2.87" fill="#ffffff" fill-opacity="0.043"/><rect x="66.8" y="642.05" width="34.50" height="2.87" fill="#ffffff" fill-opacity="0.044"/><rect x="30.4" y="644.92" width="36.40" height="2.87" fill="#000000" fill-opacity="0.009"/><rect x="66.8" y="647.79" width="34.50" height="2.87" fill="#ffffff" fill-opacity="0.028"/><rect x="30.4" y="650.66" width="36.40" height="2.87" fill="#000000" fill-opacity="0.024"/><rect x="66.8" y="650.66" width="34.50" height="2.87" fill="#ffffff" fill-opacity="0.025"/><rect x="30.4" y="653.53" width="36.40" height="2.87" fill="#ffffff" fill-opacity="0.030"/><rect x="66.8" y="653.53" width="34.50" height="2.87" fill="#ffffff" fill-opacity="0.036"/><rect x="30.4" y="656.40" width="36.40" height="2.87" fill="#000000" fill-opacity="0.028"/><rect x="66.8" y="656.40" width="34.50" height="2.87" fill="#ffffff" fill-opacity="0.045"/><rect x="30.4" y="659.27" width="36.40" height="2.87" fill="#000000" fill-opacity="0.025"/><rect x="66.8" y="659.27" width="34.50" height="2.87" fill="#000000" fill-opacity="0.010"/><rect x="66.8" y="662.14" width="34.50" height="2.87" fill="#ffffff" fill-opacity="0.042"/><rect x="30.4" y="665.01" width="36.40" height="2.87" fill="#000000" fill-opacity="0.010"/><rect x="66.8" y="665.01" width="34.50" height="2.87" fill="#ffffff" fill-opacity="0.042"/><rect x="66.8" y="667.88" width="34.50" height="2.87" fill="#000000" fill-opacity="0.011"/><rect x="30.4" y="670.75" width="36.40" height="2.87" fill="#000000" fill-opacity="0.011"/><rect x="66.8" y="670.75" width="34.50" height="2.87" fill="#000000" fill-opacity="0.019"/><rect x="30.4" y="673.62" width="36.40" height="2.87" fill="#000000" fill-opacity="0.025"/><rect x="66.8" y="673.62" width="34.50" height="2.87" fill="#000000" fill-opacity="0.021"/><rect x="30.4" y="676.49" width="36.40" height="2.87" fill="#ffffff" fill-opacity="0.019"/><rect x="66.8" y="676.49" width="34.50" height="2.87" fill="#ffffff" fill-opacity="0.050"/><rect x="30.4" y="679.36" width="36.40" height="2.87" fill="#000000" fill-opacity="0.020"/><rect x="66.8" y="679.36" width="34.50" height="2.87" fill="#000000" fill-opacity="0.027"/><rect x="30.4" y="682.23" width="36.40" height="2.87" fill="#ffffff" fill-opacity="0.049"/><rect x="66.8" y="685.10" width="34.50" height="2.87" fill="#000000" fill-opacity="0.016"/><rect x="66.8" y="687.97" width="34.50" height="2.87" fill="#ffffff" fill-opacity="0.033"/><rect x="30.4" y="693.71" width="36.40" height="2.87" fill="#000000" fill-opacity="0.027"/><rect x="66.8" y="693.71" width="34.50" height="2.87" fill="#ffffff" fill-opacity="0.042"/><rect x="30.4" y="696.58" width="36.40" height="2.87" fill="#000000" fill-opacity="0.028"/><rect x="30.4" y="699.45" width="36.40" height="2.87" fill="#ffffff" fill-opacity="0.034"/><rect x="66.8" y="699.45" width="34.50" height="2.87" fill="#000000" fill-opacity="0.022"/><rect x="30.4" y="702.32" width="36.40" height="2.87" fill="#ffffff" fill-opacity="0.023"/><rect x="66.8" y="702.32" width="34.50" height="2.87" fill="#ffffff" fill-opacity="0.045"/><rect x="66.8" y="705.19" width="34.50" height="2.87" fill="#ffffff" fill-opacity="0.029"/><rect x="30.4" y="708.06" width="36.40" height="2.87" fill="#000000" fill-opacity="0.024"/><rect x="30.4" y="710.93" width="36.40" height="2.87" fill="#000000" fill-opacity="0.021"/><rect x="66.8" y="710.93" width="34.50" height="2.87" fill="#ffffff" fill-opacity="0.034"/><rect x="30.4" y="713.80" width="36.40" height="2.87" fill="#000000" fill-opacity="0.012"/><rect x="30.4" y="716.67" width="36.40" height="2.87" fill="#ffffff" fill-opacity="0.050"/><rect x="66.8" y="716.67" width="34.50" height="2.87" fill="#ffffff" fill-opacity="0.035"/><rect x="30.4" y="719.54" width="36.40" height="2.87" fill="#ffffff" fill-opacity="0.048"/><rect x="66.8" y="722.41" width="34.50" height="2.87" fill="#ffffff" fill-opacity="0.023"/><rect x="66.8" y="725.28" width="34.50" height="2.87" fill="#000000" fill-opacity="0.013"/><rect x="66.8" y="728.15" width="34.50" height="2.87" fill="#000000" fill-opacity="0.021"/><rect x="66.8" y="731.02" width="34.50" height="2.87" fill="#ffffff" fill-opacity="0.049"/><rect x="30.4" y="733.89" width="36.40" height="2.11" fill="#ffffff" fill-opacity="0.046"/></g>
<g shape-rendering="crispEdges"><rect x="106.2" y="540" width="35.20" height="8.20" fill="#d0e6f2"/><rect x="141.0" y="540" width="35.00" height="8.20" fill="#90b4d8"/><rect x="106.2" y="547.7" width="35.20" height="6.10" fill="#b4d2e8"/><rect x="141.0" y="547.7" width="35.00" height="6.10" fill="#c0dcee"/><rect x="106.2" y="553.3" width="35.20" height="6.20" fill="#90b4d8"/><rect x="141.0" y="553.3" width="35.00" height="6.20" fill="#d0e6f2"/><rect x="106.2" y="559" width="35.20" height="3.70" fill="#a0c0e0"/><rect x="141.0" y="559" width="35.00" height="3.70" fill="#c8e0f0"/><rect x="106.2" y="562.2" width="35.20" height="3.00" fill="#7c9ccc"/><rect x="141.0" y="562.2" width="35.00" height="3.00" fill="#e8f4f8"/><rect x="106.2" y="564.7" width="35.20" height="8.50" fill="#90b4d8"/><rect x="141.0" y="564.7" width="35.00" height="8.50" fill="#c4dcee"/><rect x="106.2" y="572.7" width="35.20" height="3.80" fill="#c8e0f0"/><rect x="141.0" y="572.7" width="35.00" height="3.80" fill="#bcd8ec"/><rect x="106.2" y="576" width="35.20" height="2.90" fill="#d0e6f2"/><rect x="141.0" y="576" width="35.00" height="2.90" fill="#a0c0e0"/><rect x="106.2" y="578.4" width="35.20" height="15.10" fill="#c8e2f0"/><rect x="141.0" y="578.4" width="35.00" height="15.10" fill="#90b4d8"/><rect x="106.2" y="593" width="35.20" height="7.30" fill="#a0c0e0"/><rect x="141.0" y="593" width="35.00" height="7.30" fill="#b8d6ea"/><rect x="106.2" y="599.8" width="35.20" height="32.70" fill="#b8d6ea"/><rect x="141.0" y="599.8" width="35.00" height="32.70" fill="#9cc0de"/><rect x="106.2" y="632" width="35.20" height="7.10" fill="#a4c4e2"/><rect x="141.0" y="632" width="35.00" height="7.10" fill="#bcd8ec"/><rect x="106.2" y="638.6" width="35.20" height="3.70" fill="#c8e0f0"/><rect x="141.0" y="638.6" width="35.00" height="3.70" fill="#b4d2e8"/><rect x="106.2" y="641.8" width="35.20" height="5.30" fill="#e0eef6"/><rect x="141.0" y="641.8" width="35.00" height="5.30" fill="#c0dcee"/><rect x="106.2" y="646.6" width="35.20" height="6.90" fill="#e48c50"/><rect x="141.0" y="646.6" width="35.00" height="6.90" fill="#e89858"/><rect x="106.2" y="653" width="35.20" height="8.50" fill="#e48a52"/><rect x="141.0" y="653" width="35.00" height="8.50" fill="#f0b068"/><rect x="106.2" y="661" width="35.20" height="12.00" fill="#e07048"/><rect x="141.0" y="661" width="35.00" height="12.00" fill="#f2bc74"/><rect x="106.2" y="672.5" width="35.20" height="7.00" fill="#f0b068"/><rect x="141.0" y="672.5" width="35.00" height="7.00" fill="#e07048"/><rect x="106.2" y="679" width="35.20" height="10.10" fill="#e48048"/><rect x="141.0" y="679" width="35.00" height="10.10" fill="#eca060"/><rect x="106.2" y="688.6" width="35.20" height="2.90" fill="#f0c070"/><rect x="141.0" y="688.6" width="35.00" height="2.90" fill="#e8a060"/><rect x="106.2" y="691" width="35.20" height="9.50" fill="#c83428"/><rect x="141.0" y="691" width="35.00" height="9.50" fill="#fcf4c0"/><rect x="106.2" y="700" width="35.20" height="2.90" fill="#cc4030"/><rect x="141.0" y="700" width="35.00" height="2.90" fill="#eef4e4"/><rect x="106.2" y="702.4" width="35.20" height="11.80" fill="#d4583a"/><rect x="141.0" y="702.4" width="35.00" height="11.80" fill="#f8dc94"/><rect x="106.2" y="713.7" width="35.20" height="9.40" fill="#fbe8a8"/><rect x="141.0" y="713.7" width="35.00" height="9.40" fill="#cc4430"/><rect x="106.2" y="722.6" width="35.20" height="13.90" fill="#f8dc94"/><rect x="141.0" y="722.6" width="35.00" height="13.90" fill="#d45a3c"/><rect x="141.0" y="540.00" width="35.00" height="1.60" fill="#000000" fill-opacity="0.010"/><rect x="106.2" y="541.60" width="34.80" height="2.87" fill="#000000" fill-opacity="0.025"/><rect x="141.0" y="541.60" width="35.00" height="2.87" fill="#000000" fill-opacity="0.014"/><rect x="106.2" y="544.47" width="34.80" height="2.87" fill="#ffffff" fill-opacity="0.028"/><rect x="141.0" y="544.47" width="35.00" height="2.87" fill="#ffffff" fill-opacity="0.037"/><rect x="141.0" y="547.34" width="35.00" height="2.87" fill="#ffffff" fill-opacity="0.029"/><rect x="106.2" y="550.21" width="34.80" height="2.87" fill="#ffffff" fill-opacity="0.027"/><rect x="141.0" y="550.21" width="35.00" height="2.87" fill="#ffffff" fill-opacity="0.019"/><rect x="106.2" y="553.08" width="34.80" height="2.87" fill="#ffffff" fill-opacity="0.016"/><rect x="141.0" y="553.08" width="35.00" height="2.87" fill="#ffffff" fill-opacity="0.026"/><rect x="141.0" y="555.95" width="35.00" height="2.87" fill="#ffffff" fill-opacity="0.020"/><rect x="106.2" y="558.82" width="34.80" height="2.87" fill="#000000" fill-opacity="0.013"/><rect x="106.2" y="561.69" width="34.80" height="2.87" fill="#ffffff" fill-opacity="0.027"/><rect x="141.0" y="561.69" width="35.00" height="2.87" fill="#ffffff" fill-opacity="0.019"/><rect x="106.2" y="564.56" width="34.80" height="2.87" fill="#000000" fill-opacity="0.012"/><rect x="141.0" y="564.56" width="35.00" height="2.87" fill="#ffffff" fill-opacity="0.045"/><rect x="106.2" y="570.30" width="34.80" height="2.87" fill="#000000" fill-opacity="0.029"/><rect x="106.2" y="573.17" width="34.80" height="2.87" fill="#000000" fill-opacity="0.015"/><rect x="141.0" y="573.17" width="35.00" height="2.87" fill="#ffffff" fill-opacity="0.017"/><rect x="141.0" y="576.04" width="35.00" height="2.87" fill="#ffffff" fill-opacity="0.032"/><rect x="141.0" y="578.91" width="35.00" height="2.87" fill="#ffffff" fill-opacity="0.030"/><rect x="106.2" y="581.78" width="34.80" height="2.87" fill="#000000" fill-opacity="0.009"/><rect x="106.2" y="584.65" width="34.80" height="2.87" fill="#ffffff" fill-opacity="0.024"/><rect x="141.0" y="584.65" width="35.00" height="2.87" fill="#ffffff" fill-opacity="0.033"/><rect x="141.0" y="587.52" width="35.00" height="2.87" fill="#ffffff" fill-opacity="0.034"/><rect x="106.2" y="590.39" width="34.80" height="2.87" fill="#ffffff" fill-opacity="0.037"/><rect x="141.0" y="590.39" width="35.00" height="2.87" fill="#ffffff" fill-opacity="0.019"/><rect x="106.2" y="593.26" width="34.80" height="2.87" fill="#ffffff" fill-opacity="0.048"/><rect x="141.0" y="593.26" width="35.00" height="2.87" fill="#ffffff" fill-opacity="0.046"/><rect x="106.2" y="599.00" width="34.80" height="2.87" fill="#000000" fill-opacity="0.020"/><rect x="141.0" y="599.00" width="35.00" height="2.87" fill="#ffffff" fill-opacity="0.034"/><rect x="106.2" y="601.87" width="34.80" height="2.87" fill="#ffffff" fill-opacity="0.044"/><rect x="106.2" y="604.74" width="34.80" height="2.87" fill="#ffffff" fill-opacity="0.019"/><rect x="141.0" y="604.74" width="35.00" height="2.87" fill="#ffffff" fill-opacity="0.022"/><rect x="106.2" y="607.61" width="34.80" height="2.87" fill="#ffffff" fill-opacity="0.023"/><rect x="141.0" y="607.61" width="35.00" height="2.87" fill="#000000" fill-opacity="0.020"/><rect x="106.2" y="610.48" width="34.80" height="2.87" fill="#ffffff" fill-opacity="0.028"/><rect x="106.2" y="613.35" width="34.80" height="2.87" fill="#ffffff" fill-opacity="0.017"/><rect x="141.0" y="616.22" width="35.00" height="2.87" fill="#ffffff" fill-opacity="0.027"/><rect x="141.0" y="619.09" width="35.00" height="2.87" fill="#ffffff" fill-opacity="0.022"/><rect x="106.2" y="621.96" width="34.80" height="2.87" fill="#000000" fill-opacity="0.028"/><rect x="141.0" y="621.96" width="35.00" height="2.87" fill="#000000" fill-opacity="0.020"/><rect x="141.0" y="624.83" width="35.00" height="2.87" fill="#ffffff" fill-opacity="0.015"/><rect x="106.2" y="627.70" width="34.80" height="2.87" fill="#000000" fill-opacity="0.017"/><rect x="141.0" y="627.70" width="35.00" height="2.87" fill="#ffffff" fill-opacity="0.019"/><rect x="141.0" y="630.57" width="35.00" height="2.87" fill="#000000" fill-opacity="0.027"/><rect x="141.0" y="633.44" width="35.00" height="2.87" fill="#000000" fill-opacity="0.016"/><rect x="106.2" y="636.31" width="34.80" height="2.87" fill="#000000" fill-opacity="0.027"/><rect x="141.0" y="636.31" width="35.00" height="2.87" fill="#000000" fill-opacity="0.022"/><rect x="106.2" y="639.18" width="34.80" height="2.87" fill="#000000" fill-opacity="0.011"/><rect x="141.0" y="639.18" width="35.00" height="2.87" fill="#000000" fill-opacity="0.019"/><rect x="106.2" y="642.05" width="34.80" height="2.87" fill="#000000" fill-opacity="0.018"/><rect x="141.0" y="642.05" width="35.00" height="2.87" fill="#000000" fill-opacity="0.028"/><rect x="106.2" y="650.66" width="34.80" height="2.87" fill="#000000" fill-opacity="0.016"/><rect x="141.0" y="650.66" width="35.00" height="2.87" fill="#ffffff" fill-opacity="0.040"/><rect x="106.2" y="653.53" width="34.80" height="2.87" fill="#000000" fill-opacity="0.030"/><rect x="106.2" y="656.40" width="34.80" height="2.87" fill="#000000" fill-opacity="0.013"/><rect x="106.2" y="659.27" width="34.80" height="2.87" fill="#000000" fill-opacity="0.023"/><rect x="141.0" y="659.27" width="35.00" height="2.87" fill="#ffffff" fill-opacity="0.033"/><rect x="141.0" y="662.14" width="35.00" height="2.87" fill="#000000" fill-opacity="0.028"/><rect x="141.0" y="665.01" width="35.00" height="2.87" fill="#000000" fill-opacity="0.024"/><rect x="141.0" y="667.88" width="35.00" height="2.87" fill="#000000" fill-opacity="0.010"/><rect x="141.0" y="670.75" width="35.00" height="2.87" fill="#ffffff" fill-opacity="0.046"/><rect x="106.2" y="673.62" width="34.80" height="2.87" fill="#ffffff" fill-opacity="0.032"/><rect x="106.2" y="676.49" width="34.80" height="2.87" fill="#ffffff" fill-opacity="0.031"/><rect x="141.0" y="679.36" width="35.00" height="2.87" fill="#000000" fill-opacity="0.021"/><rect x="106.2" y="685.10" width="34.80" height="2.87" fill="#ffffff" fill-opacity="0.046"/><rect x="141.0" y="685.10" width="35.00" height="2.87" fill="#ffffff" fill-opacity="0.047"/><rect x="106.2" y="690.84" width="34.80" height="2.87" fill="#ffffff" fill-opacity="0.039"/><rect x="141.0" y="690.84" width="35.00" height="2.87" fill="#000000" fill-opacity="0.030"/><rect x="106.2" y="693.71" width="34.80" height="2.87" fill="#000000" fill-opacity="0.024"/><rect x="141.0" y="696.58" width="35.00" height="2.87" fill="#000000" fill-opacity="0.022"/><rect x="141.0" y="699.45" width="35.00" height="2.87" fill="#ffffff" fill-opacity="0.039"/><rect x="106.2" y="705.19" width="34.80" height="2.87" fill="#000000" fill-opacity="0.016"/><rect x="141.0" y="705.19" width="35.00" height="2.87" fill="#000000" fill-opacity="0.013"/><rect x="106.2" y="708.06" width="34.80" height="2.87" fill="#ffffff" fill-opacity="0.047"/><rect x="106.2" y="710.93" width="34.80" height="2.87" fill="#ffffff" fill-opacity="0.046"/><rect x="141.0" y="710.93" width="35.00" height="2.87" fill="#ffffff" fill-opacity="0.041"/><rect x="141.0" y="713.80" width="35.00" height="2.87" fill="#000000" fill-opacity="0.014"/><rect x="106.2" y="716.67" width="34.80" height="2.87" fill="#ffffff" fill-opacity="0.048"/><rect x="141.0" y="719.54" width="35.00" height="2.87" fill="#000000" fill-opacity="0.011"/><rect x="106.2" y="722.41" width="34.80" height="2.87" fill="#ffffff" fill-opacity="0.048"/><rect x="106.2" y="725.28" width="34.80" height="2.87" fill="#000000" fill-opacity="0.013"/><rect x="106.2" y="728.15" width="34.80" height="2.87" fill="#000000" fill-opacity="0.023"/><rect x="141.0" y="731.02" width="35.00" height="2.87" fill="#000000" fill-opacity="0.012"/><rect x="106.2" y="733.89" width="34.80" height="2.11" fill="#ffffff" fill-opacity="0.028"/><rect x="141.0" y="733.89" width="35.00" height="2.11" fill="#ffffff" fill-opacity="0.033"/></g>
<rect x="27.2" y="539.9" width="75.9" height="3.1" fill="#3f7fb5"/>
<rect x="103" y="539.9" width="76.2" height="3.1" fill="#6a0a80"/>
<rect x="27.2" y="734" width="75.9" height="3.8" fill="#3f7fb5"/>
<rect x="103" y="734" width="76.2" height="3.3" fill="#6a0a80"/>
<rect x="30.4" y="737.8" width="71.2" height="29.1" fill="#c6dcea"/>
<rect x="106.2" y="737.3" width="69.8" height="29.4" fill="#d6bedf"/>
<g class="lt" font-size="9.5" text-anchor="middle">
<text x="66" y="749">Epo + Dex</text><text x="140.6" y="748.5">Epo + Dex</text><text x="140.6" y="760">+ Kitlga</text>
</g>
<g class="gl" font-size="3.2" text-rendering="geometricPrecision"><text x="183.2" y="544.30">arrdc3b</text><text x="183.2" y="547.17">rhag-8l</text><text x="183.2" y="550.04">pax6a</text><text x="183.2" y="552.91">tox1b</text><text x="183.2" y="555.78">si:zfos-232e3.2</text><text x="183.2" y="558.65">CU459056.2</text><text x="183.2" y="561.52">nfe2l1</text><text x="183.2" y="564.39">adgrl4</text><text x="183.2" y="567.26">gpr34b</text><text x="183.2" y="570.13">lmo4</text><text x="183.2" y="573.00">mpeg1.1</text><text x="183.2" y="575.87">ahnak</text><text x="183.2" y="578.74">pnp5a</text><text x="183.2" y="581.61">rhcg1b</text><text x="183.2" y="584.48">sult2st3</text><text x="183.2" y="587.35">tspan2</text><text x="183.2" y="590.22">si:ch211-260p9.3</text><text x="183.2" y="593.09">si:ch211-11c7.12</text><text x="183.2" y="595.96">dlc2l</text><text x="183.2" y="598.83">ncf4</text><text x="183.2" y="601.70">BX248412.1</text><text x="183.2" y="604.57">camk2</text><text x="183.2" y="607.44">si:dkey-211g8.1</text><text x="183.2" y="610.31">fgfrb</text><text x="183.2" y="613.18">si:ch73-380n14.2</text><text x="183.2" y="616.05">aldh8a1</text><text x="183.2" y="618.92">pou2f3</text><text x="183.2" y="621.79">slc12a7b</text><text x="183.2" y="624.66">mcpad2b</text><text x="183.2" y="627.53">si:dkey-265e15.2</text><text x="183.2" y="630.40">fbn1</text><text x="183.2" y="633.27">mfap2</text><text x="183.2" y="636.14">abcf1b</text><text x="183.2" y="639.01">hrc</text><text x="183.2" y="641.88">mrcal2b</text><text x="183.2" y="644.75">rtkn1</text><text x="183.2" y="647.62">ca6l1</text><text x="183.2" y="650.49">fbln</text><text x="183.2" y="653.36">zcf1</text><text x="183.2" y="656.23">pdha1</text><text x="183.2" y="659.10">si:dkey-8e13.2</text><text x="183.2" y="661.97">si:ch211-200h14.4</text><text x="183.2" y="664.84">cd9</text><text x="183.2" y="667.71">fzbt4b</text><text x="183.2" y="670.58">anxa5b</text><text x="183.2" y="673.45">dusp4</text><text x="183.2" y="676.32">rab37</text><text x="183.2" y="679.19">hcrtr2</text><text x="183.2" y="682.06">CABIN1</text><text x="183.2" y="684.93">il11a</text><text x="183.2" y="687.80">stim2b</text><text x="183.2" y="690.67">ptpf10b</text><text x="183.2" y="693.54">si:ch211-79k11.3</text><text x="183.2" y="696.41">si:dkey-16p21.8</text><text x="183.2" y="699.28">apoeb</text><text x="183.2" y="702.15">rhouil</text><text x="183.2" y="705.02">oxsr2</text><text x="183.2" y="707.89">ptpn3</text><text x="183.2" y="710.76">ccdc81</text><text x="183.2" y="713.63">lmbrp</text><text x="183.2" y="716.50">wdsnc7a</text><text x="183.2" y="719.37">nck2b</text><text x="183.2" y="722.24">msrb</text><text x="183.2" y="725.11">cfos1</text><text x="183.2" y="727.98">CABZ01063603.1</text><text x="183.2" y="730.85">spine</text></g>
<rect x="241.1" y="537.3" width="75.5" height="229.5" fill="#3f7fb5"/>
<rect x="316.6" y="537.3" width="75.6" height="229.5" fill="#6a0a80"/>
<g shape-rendering="crispEdges"><rect x="243.8" y="538.37" width="36.50" height="11.37" fill="#cfe4ee"/><rect x="279.9" y="538.37" width="35.10" height="11.37" fill="#a9cde2"/><rect x="319.5" y="538.37" width="33.60" height="11.37" fill="#bc3228"/><rect x="352.7" y="538.37" width="36.20" height="11.37" fill="#f6f8d4"/><rect x="243.8" y="549.24" width="36.50" height="11.37" fill="#c0dde9"/><rect x="279.9" y="549.24" width="35.10" height="11.37" fill="#a8cce2"/><rect x="319.5" y="549.24" width="33.60" height="11.37" fill="#bc3228"/><rect x="352.7" y="549.24" width="36.20" height="11.37" fill="#fcf6bc"/><rect x="243.8" y="560.11" width="36.50" height="11.37" fill="#e2f0f4"/><rect x="279.9" y="560.11" width="35.10" height="11.37" fill="#98bcd8"/><rect x="319.5" y="560.11" width="33.60" height="11.37" fill="#bc3228"/><rect x="352.7" y="560.11" width="36.20" height="11.37" fill="#f8f8d0"/><rect x="243.8" y="570.98" width="36.50" height="11.37" fill="#f4f8d6"/><rect x="279.9" y="570.98" width="35.10" height="11.37" fill="#7a9cc8"/><rect x="319.5" y="570.98" width="33.60" height="11.37" fill="#c4402e"/><rect x="352.7" y="570.98" width="36.20" height="11.37" fill="#fcf4b8"/><rect x="243.8" y="581.85" width="36.50" height="11.37" fill="#deedf3"/><rect x="279.9" y="581.85" width="35.10" height="11.37" fill="#80a4cc"/><rect x="319.5" y="581.85" width="33.60" height="11.37" fill="#cc5038"/><rect x="352.7" y="581.85" width="36.20" height="11.37" fill="#f4d890"/><rect x="243.8" y="592.72" width="36.50" height="11.37" fill="#deedf3"/><rect x="279.9" y="592.72" width="35.10" height="11.37" fill="#80a4cc"/><rect x="319.5" y="592.72" width="33.60" height="11.37" fill="#c8483a"/><rect x="352.7" y="592.72" width="36.20" height="11.37" fill="#f4e09c"/><rect x="243.8" y="603.59" width="36.50" height="11.37" fill="#c4e0eb"/><rect x="279.9" y="603.59" width="35.10" height="11.37" fill="#98bcd8"/><rect x="319.5" y="603.59" width="33.60" height="11.37" fill="#c44030"/><rect x="352.7" y="603.59" width="36.20" height="11.37" fill="#f4e09c"/><rect x="243.8" y="614.46" width="36.50" height="11.37" fill="#e4f1f5"/><rect x="279.9" y="614.46" width="35.10" height="11.37" fill="#86a8d0"/><rect x="319.5" y="614.46" width="33.60" height="11.37" fill="#c44030"/><rect x="352.7" y="614.46" width="36.20" height="11.37" fill="#f8f0b0"/><rect x="243.8" y="625.33" width="36.50" height="11.37" fill="#e4f1f5"/><rect x="279.9" y="625.33" width="35.10" height="11.37" fill="#88aad0"/><rect x="319.5" y="625.33" width="33.60" height="11.37" fill="#c44434"/><rect x="352.7" y="625.33" width="36.20" height="11.37" fill="#f8eca8"/><rect x="243.8" y="636.20" width="36.50" height="11.37" fill="#dbecf2"/><rect x="279.9" y="636.20" width="35.10" height="11.37" fill="#8cb0d4"/><rect x="319.5" y="636.20" width="33.60" height="11.37" fill="#c03c2e"/><rect x="352.7" y="636.20" width="36.20" height="11.37" fill="#fcf0a8"/><rect x="243.8" y="647.07" width="36.50" height="11.37" fill="#e2f0f4"/><rect x="279.9" y="647.07" width="35.10" height="11.37" fill="#7496c4"/><rect x="319.5" y="647.07" width="33.60" height="11.37" fill="#dc6a44"/><rect x="352.7" y="647.07" width="36.20" height="11.37" fill="#f0c47c"/><rect x="243.8" y="657.94" width="36.50" height="11.37" fill="#c8e0ee"/><rect x="279.9" y="657.94" width="35.10" height="11.37" fill="#84a8d0"/><rect x="319.5" y="657.94" width="33.60" height="11.37" fill="#d86040"/><rect x="352.7" y="657.94" width="36.20" height="11.37" fill="#f0c47c"/><rect x="243.8" y="668.81" width="36.50" height="11.37" fill="#b0d0e4"/><rect x="279.9" y="668.81" width="35.10" height="11.37" fill="#9cc0dc"/><rect x="319.5" y="668.81" width="33.60" height="11.37" fill="#d45c3e"/><rect x="352.7" y="668.81" width="36.20" height="11.37" fill="#f0c078"/><rect x="243.8" y="679.68" width="36.50" height="11.37" fill="#9ec0dc"/><rect x="279.9" y="679.68" width="35.10" height="11.37" fill="#acd0e4"/><rect x="319.5" y="679.68" width="33.60" height="11.37" fill="#d45c3e"/><rect x="352.7" y="679.68" width="36.20" height="11.37" fill="#f0c078"/><rect x="243.8" y="690.55" width="36.50" height="11.37" fill="#acd0e4"/><rect x="279.9" y="690.55" width="35.10" height="11.37" fill="#9cc0dc"/><rect x="319.5" y="690.55" width="33.60" height="11.37" fill="#d05438"/><rect x="352.7" y="690.55" width="36.20" height="11.37" fill="#f4d48c"/><rect x="243.8" y="701.42" width="36.50" height="11.37" fill="#86a8d0"/><rect x="279.9" y="701.42" width="35.10" height="11.37" fill="#cce4ee"/><rect x="319.5" y="701.42" width="33.60" height="11.37" fill="#dc6c44"/><rect x="352.7" y="701.42" width="36.20" height="11.37" fill="#f0bc74"/><rect x="243.8" y="712.29" width="36.50" height="11.37" fill="#86a8d0"/><rect x="279.9" y="712.29" width="35.10" height="11.37" fill="#cce4ee"/><rect x="319.5" y="712.29" width="33.60" height="11.37" fill="#d45c3e"/><rect x="352.7" y="712.29" width="36.20" height="11.37" fill="#f4d080"/><rect x="243.8" y="723.16" width="36.50" height="11.37" fill="#9cc0dc"/><rect x="279.9" y="723.16" width="35.10" height="11.37" fill="#b0d4e6"/><rect x="319.5" y="723.16" width="33.60" height="11.37" fill="#e48850"/><rect x="352.7" y="723.16" width="36.20" height="11.37" fill="#e48850"/></g>
<rect x="241.1" y="537.3" width="75.5" height="3.1" fill="#3f7fb5"/>
<rect x="316.6" y="537.3" width="75.6" height="3.1" fill="#6a0a80"/>
<rect x="241.1" y="731.7" width="75.5" height="3.1" fill="#3f7fb5"/>
<rect x="316.6" y="731.7" width="75.6" height="3.1" fill="#6a0a80"/>
<rect x="243.8" y="734.8" width="71.8" height="29.2" fill="#c6dcea"/>
<rect x="319.5" y="734.8" width="69.7" height="29.2" fill="#d6bedf"/>
<g class="lt" font-size="9.5" text-anchor="middle">
<text x="279.2" y="746.2">Epo + Dex</text><text x="351.8" y="746.2">Epo + Dex</text><text x="352.2" y="757.8">+ Kitlga</text>
</g>
<g class="lt" font-size="9.9"><text x="395.6" y="546.6">hbaa1</text><text x="395.6" y="557.4">epb41b</text><text x="395.6" y="568.2">sptb</text><text x="395.6" y="579.1">urod</text><text x="395.6" y="589.9">ppox</text><text x="395.6" y="600.7">hmbsa</text><text x="395.6" y="611.5">klf1</text><text x="395.6" y="622.3">bcl2l10</text><text x="395.6" y="633.2">jak3</text><text x="395.6" y="644.0">tfr1a</text><text x="395.6" y="654.8">hbae1.1</text><text x="395.6" y="665.6">fech</text><text x="395.6" y="676.4">gata1a</text><text x="395.6" y="687.3">rhd</text><text x="395.6" y="698.1">steap3</text><text x="395.6" y="708.9">bcl2l13</text><text x="395.6" y="719.7">tal1</text><text x="395.6" y="730.5">slc11a2</text></g>
<text x="473.7" y="548.3" font-size="11.3" text-anchor="middle">color key</text>
<rect x="442.3" y="554" width="65.3" height="84.7" fill="url(#ck)"/>
<path d="M442.3,554.3 H507.6" stroke="#777" stroke-width="0.6"/>
<path d="M442.3,638.7 H507.6" stroke="#222" stroke-width="1"/>
<path d="M452.4,638.7 V642.8" stroke="#222" stroke-width="1"/>
<path d="M463.8,638.7 V642.8" stroke="#222" stroke-width="1"/>
<path d="M475.0,638.7 V642.8" stroke="#222" stroke-width="1"/>
<path d="M486.4,638.7 V642.8" stroke="#222" stroke-width="1"/>
<path d="M497.3,638.7 V642.8" stroke="#222" stroke-width="1"/>
<g font-size="9.6" text-anchor="middle"><text x="451.6" y="655">-1</text><text x="475" y="655">0</text><text x="497.3" y="655">1</text></g>
<text transform="translate(475,671.4) scale(0.7189,1)" font-size="10.8" text-anchor="middle">Row Z-score</text>
</svg></body></html>
